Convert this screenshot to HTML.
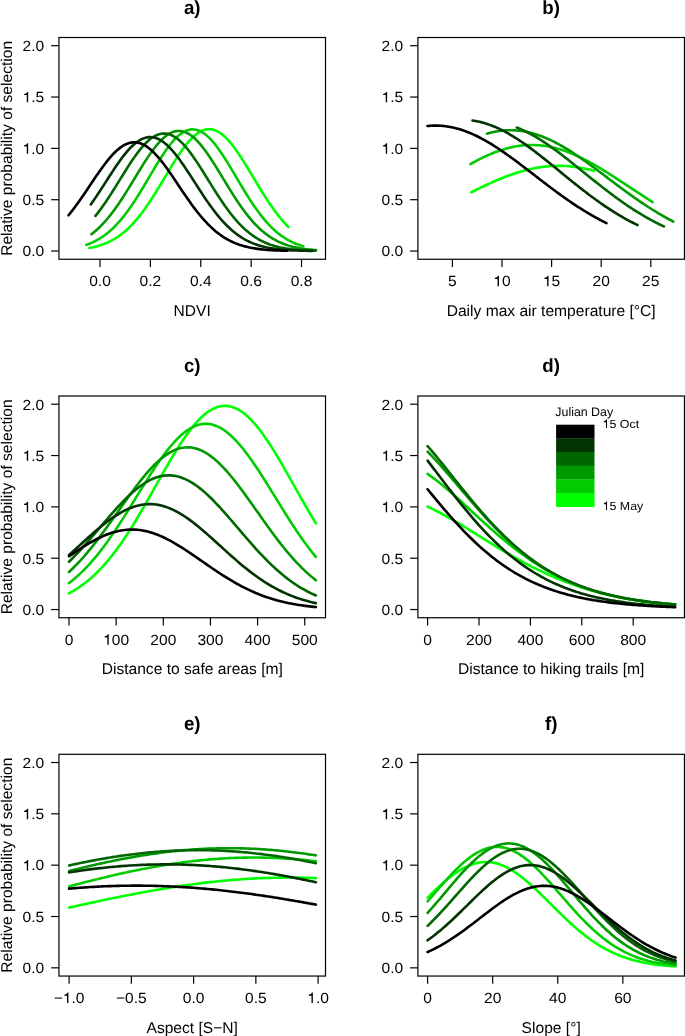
<!DOCTYPE html><html><head><meta charset="utf-8"><style>html,body{margin:0;padding:0;background:#fff;}svg{display:block;will-change:transform;}</style></head><body>
<svg xmlns="http://www.w3.org/2000/svg" width="685" height="1036" viewBox="0 0 685 1036" font-family="'Liberation Sans', sans-serif" text-rendering="geometricPrecision">
<rect width="685" height="1036" fill="#fff"/>
<g><polyline points="89.42,247.97 91.09,247.64 92.76,247.29 94.44,246.89 96.11,246.47 97.78,246 99.45,245.5 101.13,244.96 102.8,244.37 104.47,243.74 106.14,243.06 107.82,242.32 109.49,241.54 111.16,240.7 112.83,239.79 114.5,238.83 116.18,237.81 117.85,236.72 119.52,235.56 121.19,234.33 122.87,233.03 124.54,231.66 126.21,230.21 127.88,228.69 129.55,227.09 131.23,225.41 132.9,223.65 134.57,221.82 136.24,219.91 137.92,217.92 139.59,215.85 141.26,213.71 142.93,211.5 144.61,209.21 146.28,206.86 147.95,204.44 149.62,201.96 151.29,199.42 152.97,196.82 154.64,194.18 156.31,191.5 157.98,188.78 159.66,186.03 161.33,183.25 163,180.46 164.67,177.66 166.34,174.85 168.02,172.06 169.69,169.28 171.36,166.52 173.03,163.79 174.71,161.11 176.38,158.48 178.05,155.91 179.72,153.4 181.4,150.98 183.07,148.64 184.74,146.4 186.41,144.26 188.08,142.23 189.76,140.33 191.43,138.56 193.1,136.92 194.77,135.42 196.45,134.08 198.12,132.88 199.79,131.85 201.46,130.98 203.14,130.28 204.81,129.75 206.48,129.39 208.15,129.2 209.82,129.19 211.5,129.36 213.17,129.7 214.84,130.22 216.51,130.9 218.19,131.75 219.86,132.77 221.53,133.95 223.2,135.28 224.87,136.76 226.55,138.38 228.22,140.15 229.89,142.04 231.56,144.05 233.24,146.18 234.91,148.41 236.58,150.74 238.25,153.15 239.93,155.65 241.6,158.21 243.27,160.84 244.94,163.52 246.61,166.24 248.29,169 249.96,171.78 251.63,174.57 253.3,177.37 254.98,180.18 256.65,182.97 258.32,185.75 259.99,188.5 261.66,191.23 263.34,193.91 265.01,196.56 266.68,199.16 268.35,201.7 270.03,204.19 271.7,206.61 273.37,208.98 275.04,211.27 276.72,213.49 278.39,215.64 280.06,217.71 281.73,219.71 283.4,221.63 285.08,223.47 286.75,225.24 288.42,226.92" fill="none" stroke="#00FF00" stroke-width="2.6" stroke-linejoin="round" stroke-linecap="round"/><polyline points="86.4,244.83 88.22,244.17 90.04,243.45 91.87,242.67 93.69,241.83 95.51,240.92 97.33,239.94 99.16,238.89 100.98,237.76 102.8,236.55 104.62,235.26 106.45,233.88 108.27,232.41 110.09,230.86 111.91,229.22 113.74,227.48 115.56,225.64 117.38,223.72 119.2,221.69 121.03,219.58 122.85,217.37 124.67,215.06 126.49,212.67 128.32,210.19 130.14,207.62 131.96,204.98 133.78,202.26 135.61,199.46 137.43,196.61 139.25,193.69 141.07,190.73 142.9,187.72 144.72,184.68 146.54,181.61 148.36,178.53 150.19,175.44 152.01,172.36 153.83,169.3 155.66,166.27 157.48,163.28 159.3,160.34 161.12,157.47 162.95,154.68 164.77,151.97 166.59,149.37 168.41,146.88 170.24,144.52 172.06,142.29 173.88,140.21 175.7,138.29 177.53,136.54 179.35,134.96 181.17,133.57 182.99,132.36 184.82,131.36 186.64,130.55 188.46,129.96 190.28,129.57 192.11,129.39 193.93,129.43 195.75,129.68 197.57,130.14 199.4,130.81 201.22,131.69 203.04,132.76 204.86,134.03 206.69,135.49 208.51,137.13 210.33,138.94 212.15,140.92 213.98,143.05 215.8,145.33 217.62,147.74 219.45,150.27 221.27,152.91 223.09,155.64 224.91,158.47 226.74,161.36 228.56,164.32 230.38,167.33 232.2,170.37 234.03,173.44 235.85,176.52 237.67,179.61 239.49,182.68 241.32,185.74 243.14,188.77 244.96,191.77 246.78,194.72 248.61,197.61 250.43,200.45 252.25,203.22 254.07,205.91 255.9,208.53 257.72,211.07 259.54,213.52 261.36,215.88 263.19,218.15 265.01,220.33 266.83,222.41 268.65,224.4 270.48,226.3 272.3,228.1 274.12,229.8 275.94,231.41 277.77,232.94 279.59,234.37 281.41,235.72 283.24,236.98 285.06,238.16 286.88,239.26 288.7,240.29 290.53,241.24 292.35,242.13 294.17,242.95 295.99,243.71 297.82,244.4 299.64,245.05 301.46,245.63 303.28,246.17" fill="none" stroke="#00CC00" stroke-width="2.6" stroke-linejoin="round" stroke-linecap="round"/><polyline points="91.44,234.22 93.32,232.74 95.21,231.18 97.1,229.51 98.99,227.76 100.88,225.9 102.76,223.95 104.65,221.9 106.54,219.75 108.43,217.5 110.32,215.16 112.21,212.72 114.09,210.2 115.98,207.58 117.87,204.89 119.76,202.12 121.65,199.27 123.53,196.37 125.42,193.4 127.31,190.39 129.2,187.33 131.09,184.24 132.98,181.13 134.86,178.02 136.75,174.9 138.64,171.79 140.53,168.71 142.42,165.67 144.3,162.67 146.19,159.74 148.08,156.88 149.97,154.11 151.86,151.45 153.75,148.9 155.63,146.47 157.52,144.18 159.41,142.05 161.3,140.07 163.19,138.27 165.07,136.64 166.96,135.21 168.85,133.97 170.74,132.94 172.63,132.11 174.52,131.5 176.4,131.11 178.29,130.93 180.18,130.98 182.07,131.24 183.96,131.73 185.84,132.43 187.73,133.34 189.62,134.46 191.51,135.78 193.4,137.29 195.29,138.99 197.17,140.87 199.06,142.91 200.95,145.11 202.84,147.46 204.73,149.94 206.62,152.54 208.5,155.25 210.39,158.06 212.28,160.95 214.17,163.91 216.06,166.92 217.94,169.98 219.83,173.08 221.72,176.19 223.61,179.31 225.5,182.43 227.39,185.53 229.27,188.6 231.16,191.64 233.05,194.64 234.94,197.58 236.83,200.46 238.71,203.28 240.6,206.02 242.49,208.68 244.38,211.25 246.27,213.74 248.16,216.14 250.04,218.44 251.93,220.65 253.82,222.76 255.71,224.77 257.6,226.68 259.48,228.5 261.37,230.21 263.26,231.84 265.15,233.37 267.04,234.8 268.93,236.15 270.81,237.41 272.7,238.59 274.59,239.68 276.48,240.7 278.37,241.64 280.25,242.52 282.14,243.32 284.03,244.07 285.92,244.75 287.81,245.38 289.7,245.95 291.58,246.47 293.47,246.95 295.36,247.38 297.25,247.78 299.14,248.14 301.02,248.46 302.91,248.75 304.8,249.01 306.69,249.25 308.58,249.46 310.47,249.64 312.35,249.81 314.24,249.96 316.13,250.1" fill="none" stroke="#009900" stroke-width="2.6" stroke-linejoin="round" stroke-linecap="round"/><polyline points="95.47,215.91 97.31,213.58 99.16,211.16 101.01,208.66 102.86,206.09 104.71,203.44 106.55,200.72 108.4,197.95 110.25,195.11 112.1,192.23 113.95,189.31 115.79,186.36 117.64,183.39 119.49,180.4 121.34,177.42 123.19,174.44 125.03,171.48 126.88,168.55 128.73,165.66 130.58,162.83 132.43,160.06 134.27,157.37 136.12,154.77 137.97,152.27 139.82,149.89 141.67,147.63 143.51,145.5 145.36,143.52 147.21,141.7 149.06,140.04 150.9,138.55 152.75,137.24 154.6,136.12 156.45,135.19 158.3,134.46 160.14,133.93 161.99,133.61 163.84,133.49 165.69,133.58 167.54,133.87 169.38,134.37 171.23,135.07 173.08,135.97 174.93,137.06 176.78,138.34 178.62,139.8 180.47,141.43 182.32,143.23 184.17,145.19 186.02,147.29 187.86,149.53 189.71,151.9 191.56,154.38 193.41,156.97 195.26,159.64 197.1,162.4 198.95,165.22 200.8,168.1 202.65,171.02 204.5,173.98 206.34,176.96 208.19,179.95 210.04,182.93 211.89,185.91 213.74,188.86 215.58,191.79 217.43,194.68 219.28,197.52 221.13,200.3 222.98,203.03 224.82,205.69 226.67,208.27 228.52,210.78 230.37,213.21 232.22,215.56 234.06,217.82 235.91,219.99 237.76,222.06 239.61,224.05 241.46,225.95 243.3,227.75 245.15,229.46 247,231.08 248.85,232.61 250.7,234.05 252.54,235.41 254.39,236.69 256.24,237.88 258.09,239 259.94,240.04 261.78,241 263.63,241.9 265.48,242.74 267.33,243.51 269.18,244.22 271.02,244.87 272.87,245.47 274.72,246.03 276.57,246.53 278.42,246.99 280.26,247.41 282.11,247.79 283.96,248.14 285.81,248.46 287.65,248.74 289.5,249 291.35,249.23 293.2,249.44 295.05,249.62 296.89,249.79 298.74,249.94 300.59,250.07 302.44,250.19 304.29,250.29 306.13,250.39 307.98,250.47 309.83,250.54 311.68,250.61 313.53,250.66 315.37,250.71" fill="none" stroke="#006600" stroke-width="2.6" stroke-linejoin="round" stroke-linecap="round"/><polyline points="90.81,204.48 92.67,201.84 94.52,199.14 96.38,196.38 98.24,193.58 100.1,190.74 101.96,187.88 103.82,184.99 105.68,182.09 107.54,179.2 109.4,176.31 111.26,173.44 113.12,170.6 114.98,167.81 116.84,165.07 118.7,162.4 120.56,159.81 122.42,157.3 124.28,154.9 126.14,152.6 128,150.43 129.86,148.39 131.72,146.5 133.58,144.75 135.44,143.17 137.3,141.76 139.16,140.52 141.02,139.46 142.87,138.6 144.73,137.92 146.59,137.44 148.45,137.16 150.31,137.08 152.17,137.2 154.03,137.52 155.89,138.04 157.75,138.75 159.61,139.66 161.47,140.75 163.33,142.02 165.19,143.47 167.05,145.09 168.91,146.86 170.77,148.79 172.63,150.85 174.49,153.05 176.35,155.37 178.21,157.79 180.07,160.32 181.93,162.93 183.79,165.61 185.65,168.36 187.51,171.17 189.37,174.01 191.22,176.88 193.08,179.77 194.94,182.67 196.8,185.57 198.66,188.45 200.52,191.31 202.38,194.14 204.24,196.93 206.1,199.68 207.96,202.37 209.82,205 211.68,207.57 213.54,210.06 215.4,212.48 217.26,214.82 219.12,217.08 220.98,219.26 222.84,221.34 224.7,223.34 226.56,225.25 228.42,227.07 230.28,228.8 232.14,230.44 234,232 235.86,233.47 237.72,234.85 239.57,236.15 241.43,237.37 243.29,238.51 245.15,239.58 247.01,240.57 248.87,241.5 250.73,242.36 252.59,243.15 254.45,243.89 256.31,244.56 258.17,245.19 260.03,245.76 261.89,246.29 263.75,246.77 265.61,247.21 267.47,247.6 269.33,247.97 271.19,248.3 273.05,248.6 274.91,248.87 276.77,249.11 278.63,249.33 280.49,249.53 282.35,249.7 284.21,249.86 286.07,250 287.92,250.13 289.78,250.24 291.64,250.34 293.5,250.43 295.36,250.5 297.22,250.57 299.08,250.63 300.94,250.69 302.8,250.73 304.66,250.77 306.52,250.81 308.38,250.84 310.24,250.87 312.1,250.89" fill="none" stroke="#003300" stroke-width="2.6" stroke-linejoin="round" stroke-linecap="round"/><polyline points="68.51,215.29 70.35,213.03 72.19,210.69 74.02,208.29 75.86,205.83 77.7,203.3 79.54,200.72 81.37,198.1 83.21,195.43 85.05,192.73 86.89,190.01 88.72,187.27 90.56,184.52 92.4,181.77 94.24,179.04 96.07,176.33 97.91,173.65 99.75,171.01 101.59,168.43 103.42,165.91 105.26,163.47 107.1,161.11 108.94,158.85 110.77,156.7 112.61,154.67 114.45,152.76 116.28,150.99 118.12,149.36 119.96,147.89 121.8,146.58 123.63,145.43 125.47,144.46 127.31,143.66 129.15,143.05 130.98,142.62 132.82,142.38 134.66,142.32 136.5,142.46 138.33,142.78 140.17,143.29 142.01,143.99 143.85,144.86 145.68,145.91 147.52,147.13 149.36,148.51 151.19,150.05 153.03,151.74 154.87,153.58 156.71,155.54 158.54,157.63 160.38,159.83 162.22,162.13 164.06,164.52 165.89,167 167.73,169.55 169.57,172.15 171.41,174.81 173.24,177.51 175.08,180.23 176.92,182.97 178.76,185.72 180.59,188.46 182.43,191.2 184.27,193.91 186.11,196.6 187.94,199.25 189.78,201.85 191.62,204.41 193.45,206.91 195.29,209.35 197.13,211.72 198.97,214.02 200.8,216.25 202.64,218.4 204.48,220.47 206.32,222.46 208.15,224.36 209.99,226.18 211.83,227.92 213.67,229.57 215.5,231.14 217.34,232.63 219.18,234.04 221.02,235.36 222.85,236.61 224.69,237.78 226.53,238.88 228.37,239.9 230.2,240.86 232.04,241.75 233.88,242.58 235.71,243.34 237.55,244.05 239.39,244.71 241.23,245.31 243.06,245.87 244.9,246.38 246.74,246.84 248.58,247.27 250.41,247.66 252.25,248.01 254.09,248.33 255.93,248.63 257.76,248.89 259.6,249.13 261.44,249.34 263.28,249.54 265.11,249.71 266.95,249.87 268.79,250 270.63,250.13 272.46,250.24 274.3,250.34 276.14,250.42 277.97,250.5 279.81,250.57 281.65,250.63 283.49,250.68 285.32,250.73 287.16,250.77" fill="none" stroke="#000000" stroke-width="2.6" stroke-linejoin="round" stroke-linecap="round"/><rect x="58.95" y="37.5" width="266.55" height="221.75" fill="none" stroke="#000" stroke-width="1.2"/><line x1="51.15" y1="251.04" x2="58.95" y2="251.04" stroke="#000" stroke-width="1.2"/><g transform="translate(22.56,256.34) scale(1,0.95)"><text x="0" y="0" font-size="15.6">0.0</text></g><line x1="51.15" y1="199.71" x2="58.95" y2="199.71" stroke="#000" stroke-width="1.2"/><g transform="translate(22.56,205.01) scale(1,0.95)"><text x="0" y="0" font-size="15.6">0.5</text></g><line x1="51.15" y1="148.38" x2="58.95" y2="148.38" stroke="#000" stroke-width="1.2"/><g transform="translate(22.56,153.68) scale(1,0.95)"><text x="0" y="0" font-size="15.6"> .0</text><path d="M555 0H735V1440H600C570 1300 460 1170 207 1150V1000H555Z" transform="translate(0.00,0) scale(0.007617,-0.007617)"/></g><line x1="51.15" y1="97.04" x2="58.95" y2="97.04" stroke="#000" stroke-width="1.2"/><g transform="translate(22.56,102.34) scale(1,0.95)"><text x="0" y="0" font-size="15.6"> .5</text><path d="M555 0H735V1440H600C570 1300 460 1170 207 1150V1000H555Z" transform="translate(0.00,0) scale(0.007617,-0.007617)"/></g><line x1="51.15" y1="45.71" x2="58.95" y2="45.71" stroke="#000" stroke-width="1.2"/><g transform="translate(22.56,51.01) scale(1,0.95)"><text x="0" y="0" font-size="15.6">2.0</text></g><line x1="100" y1="259.25" x2="100" y2="267.05" stroke="#000" stroke-width="1.2"/><g transform="translate(89.16,286.15) scale(1,0.95)"><text x="0" y="0" font-size="15.6">0.0</text></g><line x1="150.38" y1="259.25" x2="150.38" y2="267.05" stroke="#000" stroke-width="1.2"/><g transform="translate(139.54,286.15) scale(1,0.95)"><text x="0" y="0" font-size="15.6">0.2</text></g><line x1="200.76" y1="259.25" x2="200.76" y2="267.05" stroke="#000" stroke-width="1.2"/><g transform="translate(189.92,286.15) scale(1,0.95)"><text x="0" y="0" font-size="15.6">0.4</text></g><line x1="251.14" y1="259.25" x2="251.14" y2="267.05" stroke="#000" stroke-width="1.2"/><g transform="translate(240.30,286.15) scale(1,0.95)"><text x="0" y="0" font-size="15.6">0.6</text></g><line x1="301.52" y1="259.25" x2="301.52" y2="267.05" stroke="#000" stroke-width="1.2"/><g transform="translate(290.68,286.15) scale(1,0.95)"><text x="0" y="0" font-size="15.6">0.8</text></g><text transform="translate(192.22,315.75) scale(1,1.0)" font-size="15.6" text-anchor="middle">NDVI</text><text transform="translate(192.22,13.60) scale(1,1.02)" font-size="18.7" font-weight="bold" text-anchor="middle">a)</text><text transform="translate(11.6,148.38) rotate(-90) scale(1,1.0)" font-size="15.6" text-anchor="middle">Relative probability of selection</text></g>
<g><polyline points="471.35,192.26 472.38,191.74 473.41,191.23 474.44,190.72 475.47,190.21 476.5,189.7 477.53,189.2 478.56,188.69 479.59,188.19 480.62,187.69 481.65,187.2 482.68,186.71 483.71,186.22 484.74,185.73 485.77,185.25 486.8,184.77 487.83,184.29 488.86,183.82 489.89,183.35 490.92,182.88 491.95,182.42 492.98,181.96 494.01,181.51 495.05,181.06 496.08,180.61 497.11,180.17 498.14,179.74 499.17,179.31 500.2,178.88 501.23,178.46 502.26,178.04 503.29,177.63 504.32,177.23 505.35,176.83 506.38,176.43 507.41,176.04 508.44,175.66 509.47,175.28 510.5,174.91 511.53,174.55 512.56,174.19 513.59,173.83 514.62,173.49 515.65,173.15 516.68,172.82 517.71,172.49 518.74,172.17 519.77,171.86 520.8,171.55 521.83,171.25 522.86,170.96 523.89,170.68 524.93,170.4 525.96,170.13 526.99,169.87 528.02,169.62 529.05,169.37 530.08,169.13 531.11,168.9 532.14,168.68 533.17,168.47 534.2,168.26 535.23,168.06 536.26,167.87 537.29,167.69 538.32,167.51 539.35,167.35 540.38,167.19 541.41,167.04 542.44,166.9 543.47,166.77 544.5,166.64 545.53,166.53 546.56,166.42 547.59,166.33 548.62,166.24 549.65,166.16 550.68,166.08 551.71,166.02 552.74,165.97 553.77,165.92 554.81,165.89 555.84,165.86 556.87,165.84 557.9,165.83 558.93,165.83 559.96,165.84 560.99,165.85 562.02,165.88 563.05,165.91 564.08,165.95 565.11,166.01 566.14,166.07 567.17,166.14 568.2,166.21 569.23,166.3 570.26,166.4 571.29,166.5 572.32,166.61 573.35,166.74 574.38,166.86 575.41,167 576.44,167.15 577.47,167.31 578.5,167.47 579.53,167.64 580.56,167.82 581.59,168.01 582.62,168.21 583.65,168.41 584.69,168.62 585.72,168.85 586.75,169.07 587.78,169.31 588.81,169.55 589.84,169.81 590.87,170.07 591.9,170.33 592.93,170.61 593.96,170.89" fill="none" stroke="#00FF00" stroke-width="2.6" stroke-linejoin="round" stroke-linecap="round"/><polyline points="470.45,164.11 471.98,163.25 473.52,162.41 475.05,161.58 476.58,160.77 478.11,159.97 479.64,159.18 481.17,158.42 482.7,157.67 484.23,156.93 485.76,156.22 487.29,155.52 488.82,154.84 490.35,154.18 491.88,153.54 493.41,152.93 494.94,152.33 496.47,151.75 498,151.19 499.53,150.66 501.06,150.14 502.6,149.65 504.13,149.19 505.66,148.74 507.19,148.32 508.72,147.92 510.25,147.55 511.78,147.2 513.31,146.88 514.84,146.58 516.37,146.31 517.9,146.06 519.43,145.84 520.96,145.64 522.49,145.47 524.02,145.32 525.55,145.2 527.08,145.11 528.61,145.04 530.14,145 531.67,144.99 533.21,145 534.74,145.04 536.27,145.1 537.8,145.19 539.33,145.31 540.86,145.45 542.39,145.62 543.92,145.81 545.45,146.03 546.98,146.28 548.51,146.55 550.04,146.85 551.57,147.17 553.1,147.51 554.63,147.88 556.16,148.28 557.69,148.69 559.22,149.14 560.75,149.6 562.29,150.09 563.82,150.6 565.35,151.13 566.88,151.69 568.41,152.26 569.94,152.86 571.47,153.47 573,154.11 574.53,154.77 576.06,155.45 577.59,156.14 579.12,156.85 580.65,157.59 582.18,158.33 583.71,159.1 585.24,159.88 586.77,160.68 588.3,161.49 589.83,162.32 591.37,163.16 592.9,164.01 594.43,164.88 595.96,165.76 597.49,166.65 599.02,167.56 600.55,168.47 602.08,169.4 603.61,170.33 605.14,171.28 606.67,172.23 608.2,173.19 609.73,174.15 611.26,175.13 612.79,176.11 614.32,177.1 615.85,178.09 617.38,179.08 618.91,180.08 620.44,181.08 621.98,182.09 623.51,183.1 625.04,184.11 626.57,185.12 628.1,186.13 629.63,187.15 631.16,188.16 632.69,189.17 634.22,190.18 635.75,191.19 637.28,192.2 638.81,193.2 640.34,194.2 641.87,195.2 643.4,196.19 644.93,197.18 646.46,198.17 647.99,199.15 649.52,200.12 651.06,201.09 652.59,202.05" fill="none" stroke="#00CC00" stroke-width="2.6" stroke-linejoin="round" stroke-linecap="round"/><polyline points="487.02,133.71 488.59,133.26 490.15,132.85 491.72,132.46 493.28,132.1 494.85,131.78 496.41,131.48 497.98,131.21 499.55,130.98 501.11,130.77 502.68,130.6 504.24,130.46 505.81,130.35 507.37,130.27 508.94,130.22 510.5,130.2 512.07,130.22 513.63,130.27 515.2,130.34 516.77,130.45 518.33,130.59 519.9,130.77 521.46,130.97 523.03,131.2 524.59,131.47 526.16,131.76 527.72,132.09 529.29,132.45 530.86,132.83 532.42,133.25 533.99,133.69 535.55,134.16 537.12,134.67 538.68,135.2 540.25,135.75 541.81,136.34 543.38,136.95 544.95,137.59 546.51,138.25 548.08,138.94 549.64,139.65 551.21,140.39 552.77,141.15 554.34,141.94 555.9,142.75 557.47,143.58 559.03,144.43 560.6,145.3 562.17,146.19 563.73,147.1 565.3,148.03 566.86,148.98 568.43,149.95 569.99,150.93 571.56,151.93 573.12,152.95 574.69,153.98 576.26,155.03 577.82,156.08 579.39,157.15 580.95,158.24 582.52,159.33 584.08,160.44 585.65,161.55 587.21,162.68 588.78,163.81 590.35,164.95 591.91,166.1 593.48,167.26 595.04,168.42 596.61,169.58 598.17,170.76 599.74,171.93 601.3,173.11 602.87,174.29 604.44,175.47 606,176.65 607.57,177.84 609.13,179.02 610.7,180.2 612.26,181.38 613.83,182.56 615.39,183.74 616.96,184.92 618.52,186.09 620.09,187.25 621.66,188.42 623.22,189.57 624.79,190.73 626.35,191.87 627.92,193.01 629.48,194.14 631.05,195.27 632.61,196.38 634.18,197.49 635.75,198.59 637.31,199.68 638.88,200.76 640.44,201.83 642.01,202.89 643.57,203.94 645.14,204.98 646.7,206.01 648.27,207.02 649.84,208.03 651.4,209.02 652.97,210 654.53,210.97 656.1,211.92 657.66,212.87 659.23,213.79 660.79,214.71 662.36,215.61 663.93,216.5 665.49,217.38 667.06,218.24 668.62,219.09 670.19,219.93 671.75,220.75 673.32,221.55" fill="none" stroke="#009900" stroke-width="2.6" stroke-linejoin="round" stroke-linecap="round"/><polyline points="516.78,127.52 518.02,128.02 519.25,128.53 520.49,129.06 521.73,129.61 522.97,130.18 524.2,130.76 525.44,131.36 526.68,131.97 527.91,132.6 529.15,133.25 530.39,133.91 531.63,134.59 532.86,135.28 534.1,135.98 535.34,136.7 536.57,137.44 537.81,138.19 539.05,138.95 540.29,139.72 541.52,140.51 542.76,141.31 544,142.12 545.23,142.94 546.47,143.77 547.71,144.62 548.94,145.47 550.18,146.34 551.42,147.21 552.66,148.1 553.89,148.99 555.13,149.89 556.37,150.8 557.6,151.72 558.84,152.64 560.08,153.58 561.32,154.51 562.55,155.46 563.79,156.41 565.03,157.37 566.26,158.33 567.5,159.3 568.74,160.27 569.98,161.25 571.21,162.23 572.45,163.21 573.69,164.2 574.92,165.19 576.16,166.18 577.4,167.18 578.63,168.17 579.87,169.17 581.11,170.17 582.35,171.17 583.58,172.17 584.82,173.17 586.06,174.17 587.29,175.17 588.53,176.16 589.77,177.16 591.01,178.16 592.24,179.15 593.48,180.14 594.72,181.13 595.95,182.12 597.19,183.1 598.43,184.08 599.67,185.06 600.9,186.03 602.14,187 603.38,187.97 604.61,188.93 605.85,189.89 607.09,190.84 608.32,191.78 609.56,192.72 610.8,193.66 612.04,194.59 613.27,195.51 614.51,196.43 615.75,197.34 616.98,198.24 618.22,199.14 619.46,200.03 620.7,200.91 621.93,201.78 623.17,202.65 624.41,203.51 625.64,204.37 626.88,205.21 628.12,206.05 629.36,206.88 630.59,207.7 631.83,208.51 633.07,209.31 634.3,210.11 635.54,210.89 636.78,211.67 638.01,212.44 639.25,213.2 640.49,213.95 641.73,214.69 642.96,215.42 644.2,216.15 645.44,216.86 646.67,217.57 647.91,218.26 649.15,218.95 650.39,219.63 651.62,220.3 652.86,220.96 654.1,221.61 655.33,222.25 656.57,222.88 657.81,223.5 659.05,224.11 660.28,224.71 661.52,225.31 662.76,225.89 663.99,226.46" fill="none" stroke="#006600" stroke-width="2.6" stroke-linejoin="round" stroke-linecap="round"/><polyline points="472.54,120.52 473.92,120.72 475.31,120.95 476.7,121.2 478.08,121.48 479.47,121.79 480.86,122.12 482.24,122.48 483.63,122.86 485.01,123.27 486.4,123.7 487.79,124.16 489.17,124.64 490.56,125.14 491.95,125.67 493.33,126.22 494.72,126.8 496.1,127.39 497.49,128.01 498.88,128.65 500.26,129.31 501.65,130 503.04,130.7 504.42,131.42 505.81,132.17 507.2,132.93 508.58,133.71 509.97,134.51 511.35,135.33 512.74,136.16 514.13,137.02 515.51,137.89 516.9,138.77 518.29,139.67 519.67,140.59 521.06,141.52 522.44,142.47 523.83,143.43 525.22,144.4 526.6,145.39 527.99,146.38 529.38,147.39 530.76,148.41 532.15,149.44 533.53,150.49 534.92,151.54 536.31,152.6 537.69,153.66 539.08,154.74 540.47,155.82 541.85,156.91 543.24,158.01 544.63,159.11 546.01,160.22 547.4,161.34 548.78,162.45 550.17,163.58 551.56,164.7 552.94,165.83 554.33,166.96 555.72,168.09 557.1,169.22 558.49,170.36 559.87,171.49 561.26,172.63 562.65,173.76 564.03,174.89 565.42,176.03 566.81,177.16 568.19,178.28 569.58,179.41 570.96,180.53 572.35,181.65 573.74,182.77 575.12,183.88 576.51,184.98 577.9,186.08 579.28,187.18 580.67,188.27 582.06,189.35 583.44,190.43 584.83,191.5 586.21,192.56 587.6,193.62 588.99,194.67 590.37,195.71 591.76,196.74 593.15,197.77 594.53,198.78 595.92,199.79 597.3,200.79 598.69,201.77 600.08,202.75 601.46,203.72 602.85,204.68 604.24,205.63 605.62,206.57 607.01,207.49 608.39,208.41 609.78,209.32 611.17,210.21 612.55,211.1 613.94,211.97 615.33,212.83 616.71,213.68 618.1,214.52 619.49,215.35 620.87,216.16 622.26,216.97 623.64,217.76 625.03,218.54 626.42,219.31 627.8,220.06 629.19,220.81 630.58,221.54 631.96,222.26 633.35,222.97 634.73,223.67 636.12,224.35 637.51,225.02" fill="none" stroke="#003300" stroke-width="2.6" stroke-linejoin="round" stroke-linecap="round"/><polyline points="427.5,126 429,125.86 430.51,125.75 432.01,125.66 433.52,125.61 435.02,125.59 436.52,125.59 438.03,125.62 439.53,125.69 441.04,125.78 442.54,125.9 444.04,126.05 445.55,126.23 447.05,126.44 448.55,126.67 450.06,126.94 451.56,127.23 453.07,127.55 454.57,127.9 456.07,128.28 457.58,128.68 459.08,129.11 460.59,129.57 462.09,130.05 463.59,130.56 465.1,131.1 466.6,131.66 468.1,132.24 469.61,132.85 471.11,133.49 472.62,134.15 474.12,134.83 475.62,135.53 477.13,136.26 478.63,137.01 480.14,137.78 481.64,138.57 483.14,139.39 484.65,140.22 486.15,141.07 487.65,141.94 489.16,142.83 490.66,143.73 492.17,144.66 493.67,145.6 495.17,146.55 496.68,147.52 498.18,148.51 499.69,149.51 501.19,150.53 502.69,151.55 504.2,152.59 505.7,153.64 507.2,154.71 508.71,155.78 510.21,156.86 511.72,157.95 513.22,159.05 514.72,160.16 516.23,161.28 517.73,162.4 519.23,163.53 520.74,164.67 522.24,165.81 523.75,166.96 525.25,168.1 526.75,169.26 528.26,170.41 529.76,171.57 531.27,172.73 532.77,173.89 534.27,175.05 535.78,176.21 537.28,177.37 538.78,178.53 540.29,179.68 541.79,180.84 543.3,181.99 544.8,183.14 546.3,184.29 547.81,185.43 549.31,186.56 550.82,187.7 552.32,188.82 553.82,189.94 555.33,191.06 556.83,192.17 558.33,193.27 559.84,194.36 561.34,195.45 562.85,196.52 564.35,197.59 565.85,198.65 567.36,199.7 568.86,200.75 570.37,201.78 571.87,202.8 573.37,203.81 574.88,204.81 576.38,205.81 577.88,206.79 579.39,207.75 580.89,208.71 582.4,209.66 583.9,210.59 585.4,211.51 586.91,212.42 588.41,213.32 589.92,214.21 591.42,215.08 592.92,215.94 594.43,216.79 595.93,217.62 597.43,218.45 598.94,219.26 600.44,220.05 601.95,220.84 603.45,221.61 604.95,222.37 606.46,223.11" fill="none" stroke="#000000" stroke-width="2.6" stroke-linejoin="round" stroke-linecap="round"/><rect x="417.9" y="37.5" width="266.55" height="221.75" fill="none" stroke="#000" stroke-width="1.2"/><line x1="410.1" y1="251.04" x2="417.9" y2="251.04" stroke="#000" stroke-width="1.2"/><g transform="translate(381.51,256.34) scale(1,0.95)"><text x="0" y="0" font-size="15.6">0.0</text></g><line x1="410.1" y1="199.71" x2="417.9" y2="199.71" stroke="#000" stroke-width="1.2"/><g transform="translate(381.51,205.01) scale(1,0.95)"><text x="0" y="0" font-size="15.6">0.5</text></g><line x1="410.1" y1="148.38" x2="417.9" y2="148.38" stroke="#000" stroke-width="1.2"/><g transform="translate(381.51,153.68) scale(1,0.95)"><text x="0" y="0" font-size="15.6"> .0</text><path d="M555 0H735V1440H600C570 1300 460 1170 207 1150V1000H555Z" transform="translate(0.00,0) scale(0.007617,-0.007617)"/></g><line x1="410.1" y1="97.04" x2="417.9" y2="97.04" stroke="#000" stroke-width="1.2"/><g transform="translate(381.51,102.34) scale(1,0.95)"><text x="0" y="0" font-size="15.6"> .5</text><path d="M555 0H735V1440H600C570 1300 460 1170 207 1150V1000H555Z" transform="translate(0.00,0) scale(0.007617,-0.007617)"/></g><line x1="410.1" y1="45.71" x2="417.9" y2="45.71" stroke="#000" stroke-width="1.2"/><g transform="translate(381.51,51.01) scale(1,0.95)"><text x="0" y="0" font-size="15.6">2.0</text></g><line x1="452.4" y1="259.25" x2="452.4" y2="267.05" stroke="#000" stroke-width="1.2"/><g transform="translate(448.06,286.15) scale(1,0.95)"><text x="0" y="0" font-size="15.6">5</text></g><line x1="502" y1="259.25" x2="502" y2="267.05" stroke="#000" stroke-width="1.2"/><g transform="translate(493.32,286.15) scale(1,0.95)"><text x="0" y="0" font-size="15.6"> 0</text><path d="M555 0H735V1440H600C570 1300 460 1170 207 1150V1000H555Z" transform="translate(0.00,0) scale(0.007617,-0.007617)"/></g><line x1="551.6" y1="259.25" x2="551.6" y2="267.05" stroke="#000" stroke-width="1.2"/><g transform="translate(542.92,286.15) scale(1,0.95)"><text x="0" y="0" font-size="15.6"> 5</text><path d="M555 0H735V1440H600C570 1300 460 1170 207 1150V1000H555Z" transform="translate(0.00,0) scale(0.007617,-0.007617)"/></g><line x1="601.2" y1="259.25" x2="601.2" y2="267.05" stroke="#000" stroke-width="1.2"/><g transform="translate(592.52,286.15) scale(1,0.95)"><text x="0" y="0" font-size="15.6">20</text></g><line x1="650.8" y1="259.25" x2="650.8" y2="267.05" stroke="#000" stroke-width="1.2"/><g transform="translate(642.12,286.15) scale(1,0.95)"><text x="0" y="0" font-size="15.6">25</text></g><text transform="translate(551.17,315.75) scale(1,1.0)" font-size="15.6" text-anchor="middle">Daily max air temperature [°C]</text><text transform="translate(551.17,13.60) scale(1,1.02)" font-size="18.7" font-weight="bold" text-anchor="middle">b)</text></g>
<g><polyline points="69,593.34 71.07,592.22 73.15,591.04 75.22,589.8 77.3,588.49 79.37,587.11 81.45,585.67 83.52,584.16 85.59,582.57 87.67,580.91 89.74,579.17 91.82,577.36 93.89,575.47 95.96,573.51 98.04,571.46 100.11,569.33 102.19,567.13 104.26,564.84 106.34,562.47 108.41,560.01 110.48,557.48 112.56,554.87 114.63,552.17 116.71,549.4 118.78,546.55 120.86,543.63 122.93,540.63 125,537.56 127.08,534.42 129.15,531.21 131.23,527.93 133.3,524.6 135.37,521.21 137.45,517.77 139.52,514.28 141.6,510.74 143.67,507.17 145.75,503.56 147.82,499.92 149.89,496.26 151.97,492.58 154.04,488.88 156.12,485.19 158.19,481.49 160.26,477.81 162.34,474.13 164.41,470.48 166.49,466.86 168.56,463.28 170.64,459.74 172.71,456.26 174.78,452.83 176.86,449.47 178.93,446.18 181.01,442.97 183.08,439.86 185.16,436.84 187.23,433.92 189.3,431.12 191.38,428.43 193.45,425.86 195.53,423.43 197.6,421.13 199.67,418.98 201.75,416.97 203.82,415.12 205.9,413.42 207.97,411.89 210.05,410.52 212.12,409.33 214.19,408.3 216.27,407.46 218.34,406.79 220.42,406.29 222.49,405.99 224.57,405.86 226.64,405.91 228.71,406.15 230.79,406.57 232.86,407.17 234.94,407.95 237.01,408.9 239.08,410.03 241.16,411.33 243.23,412.8 245.31,414.44 247.38,416.23 249.46,418.18 251.53,420.27 253.6,422.51 255.68,424.89 257.75,427.41 259.83,430.05 261.9,432.81 263.98,435.68 266.05,438.66 268.12,441.74 270.2,444.91 272.27,448.17 274.35,451.5 276.42,454.9 278.49,458.37 280.57,461.89 282.64,465.45 284.72,469.06 286.79,472.7 288.87,476.36 290.94,480.04 293.01,483.74 295.09,487.43 297.16,491.13 299.24,494.81 301.31,498.48 303.39,502.13 305.46,505.75 307.53,509.34 309.61,512.9 311.68,516.41 313.76,519.87 315.83,523.28" fill="none" stroke="#00FF00" stroke-width="2.6" stroke-linejoin="round" stroke-linecap="round"/><polyline points="69,583.04 71.07,581.44 73.15,579.77 75.22,578.03 77.3,576.22 79.37,574.34 81.45,572.38 83.52,570.35 85.59,568.24 87.67,566.06 89.74,563.81 91.82,561.48 93.89,559.08 95.96,556.6 98.04,554.06 100.11,551.44 102.19,548.76 104.26,546.01 106.34,543.19 108.41,540.31 110.48,537.37 112.56,534.37 114.63,531.32 116.71,528.22 118.78,525.07 120.86,521.87 122.93,518.64 125,515.37 127.08,512.07 129.15,508.75 131.23,505.4 133.3,502.05 135.37,498.68 137.45,495.31 139.52,491.94 141.6,488.58 143.67,485.24 145.75,481.92 147.82,478.62 149.89,475.37 151.97,472.15 154.04,468.98 156.12,465.87 158.19,462.82 160.26,459.85 162.34,456.94 164.41,454.12 166.49,451.39 168.56,448.76 170.64,446.23 172.71,443.8 174.78,441.5 176.86,439.31 178.93,437.25 181.01,435.31 183.08,433.52 185.16,431.87 187.23,430.36 189.3,429 191.38,427.79 193.45,426.74 195.53,425.84 197.6,425.11 199.67,424.54 201.75,424.14 203.82,423.9 205.9,423.82 207.97,423.91 210.05,424.17 212.12,424.6 214.19,425.18 216.27,425.93 218.34,426.85 220.42,427.92 222.49,429.14 224.57,430.52 226.64,432.04 228.71,433.71 230.79,435.52 232.86,437.47 234.94,439.55 237.01,441.75 239.08,444.07 241.16,446.5 243.23,449.05 245.31,451.69 247.38,454.43 249.46,457.26 251.53,460.17 253.6,463.16 255.68,466.22 257.75,469.33 259.83,472.51 261.9,475.73 263.98,478.99 266.05,482.28 268.12,485.61 270.2,488.95 272.27,492.31 274.35,495.68 276.42,499.05 278.49,502.42 280.57,505.78 282.64,509.12 284.72,512.44 286.79,515.74 288.87,519 290.94,522.23 293.01,525.42 295.09,528.56 297.16,531.66 299.24,534.71 301.31,537.7 303.39,540.63 305.46,543.51 307.53,546.32 309.61,549.06 311.68,551.74 313.76,554.35 315.83,556.88" fill="none" stroke="#00CC00" stroke-width="2.6" stroke-linejoin="round" stroke-linecap="round"/><polyline points="69,572 71.07,570.05 73.15,568.03 75.22,565.94 77.3,563.8 79.37,561.59 81.45,559.32 83.52,556.99 85.59,554.6 87.67,552.15 89.74,549.65 91.82,547.09 93.89,544.48 95.96,541.83 98.04,539.13 100.11,536.38 102.19,533.6 104.26,530.79 106.34,527.94 108.41,525.06 110.48,522.16 112.56,519.25 114.63,516.32 116.71,513.38 118.78,510.43 120.86,507.49 122.93,504.55 125,501.63 127.08,498.72 129.15,495.84 131.23,492.99 133.3,490.17 135.37,487.4 137.45,484.67 139.52,481.99 141.6,479.38 143.67,476.83 145.75,474.35 147.82,471.94 149.89,469.62 151.97,467.39 154.04,465.25 156.12,463.21 158.19,461.28 160.26,459.45 162.34,457.74 164.41,456.15 166.49,454.67 168.56,453.33 170.64,452.11 172.71,451.02 174.78,450.07 176.86,449.26 178.93,448.59 181.01,448.06 183.08,447.67 185.16,447.43 187.23,447.33 189.3,447.38 191.38,447.57 193.45,447.91 195.53,448.39 197.6,449.02 199.67,449.78 201.75,450.68 203.82,451.72 205.9,452.9 207.97,454.2 210.05,455.63 212.12,457.18 214.19,458.86 216.27,460.65 218.34,462.54 220.42,464.55 222.49,466.65 224.57,468.85 226.64,471.14 228.71,473.52 230.79,475.97 232.86,478.5 234.94,481.1 237.01,483.75 239.08,486.46 241.16,489.22 243.23,492.03 245.31,494.87 247.38,497.74 249.46,500.64 251.53,503.56 253.6,506.49 255.68,509.43 257.75,512.37 259.83,515.32 261.9,518.25 263.98,521.17 266.05,524.08 268.12,526.96 270.2,529.82 272.27,532.65 274.35,535.44 276.42,538.2 278.49,540.91 280.57,543.58 282.64,546.21 284.72,548.78 286.79,551.3 288.87,553.77 290.94,556.18 293.01,558.53 295.09,560.82 297.16,563.05 299.24,565.22 301.31,567.33 303.39,569.37 305.46,571.34 307.53,573.26 309.61,575.1 311.68,576.88 313.76,578.6 315.83,580.25" fill="none" stroke="#009900" stroke-width="2.6" stroke-linejoin="round" stroke-linecap="round"/><polyline points="69,561.83 71.07,559.75 73.15,557.63 75.22,555.47 77.3,553.27 79.37,551.03 81.45,548.76 83.52,546.46 85.59,544.12 87.67,541.76 89.74,539.38 91.82,536.98 93.89,534.57 95.96,532.14 98.04,529.71 100.11,527.27 102.19,524.84 104.26,522.41 106.34,520 108.41,517.59 110.48,515.21 112.56,512.86 114.63,510.53 116.71,508.24 118.78,505.99 120.86,503.78 122.93,501.62 125,499.52 127.08,497.47 129.15,495.49 131.23,493.58 133.3,491.74 135.37,489.98 137.45,488.31 139.52,486.72 141.6,485.22 143.67,483.81 145.75,482.5 147.82,481.3 149.89,480.19 151.97,479.2 154.04,478.31 156.12,477.54 158.19,476.88 160.26,476.34 162.34,475.92 164.41,475.61 166.49,475.42 168.56,475.36 170.64,475.41 172.71,475.58 174.78,475.88 176.86,476.29 178.93,476.82 181.01,477.46 183.08,478.23 185.16,479.1 187.23,480.08 189.3,481.17 191.38,482.37 193.45,483.66 195.53,485.06 197.6,486.55 199.67,488.13 201.75,489.8 203.82,491.55 205.9,493.38 207.97,495.28 210.05,497.25 212.12,499.29 214.19,501.39 216.27,503.54 218.34,505.74 220.42,507.99 222.49,510.28 224.57,512.6 226.64,514.95 228.71,517.33 230.79,519.73 232.86,522.15 234.94,524.58 237.01,527.01 239.08,529.44 241.16,531.88 243.23,534.3 245.31,536.72 247.38,539.12 249.46,541.5 251.53,543.87 253.6,546.2 255.68,548.51 257.75,550.79 259.83,553.03 261.9,555.23 263.98,557.4 266.05,559.52 268.12,561.6 270.2,563.64 272.27,565.63 274.35,567.57 276.42,569.46 278.49,571.3 280.57,573.08 282.64,574.82 284.72,576.5 286.79,578.13 288.87,579.7 290.94,581.22 293.01,582.69 295.09,584.11 297.16,585.47 299.24,586.78 301.31,588.03 303.39,589.24 305.46,590.4 307.53,591.5 309.61,592.56 311.68,593.57 313.76,594.53 315.83,595.45" fill="none" stroke="#006600" stroke-width="2.6" stroke-linejoin="round" stroke-linecap="round"/><polyline points="69,554.96 71.07,553.11 73.15,551.24 75.22,549.36 77.3,547.48 79.37,545.59 81.45,543.7 83.52,541.82 85.59,539.94 87.67,538.07 89.74,536.22 91.82,534.38 93.89,532.57 95.96,530.78 98.04,529.02 100.11,527.29 102.19,525.6 104.26,523.94 106.34,522.34 108.41,520.77 110.48,519.26 112.56,517.8 114.63,516.4 116.71,515.07 118.78,513.79 120.86,512.58 122.93,511.45 125,510.38 127.08,509.4 129.15,508.49 131.23,507.66 133.3,506.91 135.37,506.25 137.45,505.68 139.52,505.19 141.6,504.79 143.67,504.48 145.75,504.26 147.82,504.14 149.89,504.1 151.97,504.16 154.04,504.31 156.12,504.55 158.19,504.88 160.26,505.31 162.34,505.82 164.41,506.41 166.49,507.1 168.56,507.86 170.64,508.71 172.71,509.64 174.78,510.65 176.86,511.73 178.93,512.89 181.01,514.11 183.08,515.4 185.16,516.76 187.23,518.17 189.3,519.65 191.38,521.17 193.45,522.75 195.53,524.37 197.6,526.03 199.67,527.73 201.75,529.47 203.82,531.24 205.9,533.04 207.97,534.86 210.05,536.7 212.12,538.55 214.19,540.42 216.27,542.3 218.34,544.19 220.42,546.08 222.49,547.96 224.57,549.85 226.64,551.72 228.71,553.59 230.79,555.44 232.86,557.28 234.94,559.1 237.01,560.89 239.08,562.67 241.16,564.42 243.23,566.14 245.31,567.83 247.38,569.49 249.46,571.12 251.53,572.72 253.6,574.27 255.68,575.8 257.75,577.28 259.83,578.73 261.9,580.13 263.98,581.5 266.05,582.83 268.12,584.12 270.2,585.36 272.27,586.57 274.35,587.73 276.42,588.85 278.49,589.93 280.57,590.98 282.64,591.98 284.72,592.94 286.79,593.86 288.87,594.75 290.94,595.59 293.01,596.4 295.09,597.18 297.16,597.91 299.24,598.62 301.31,599.29 303.39,599.92 305.46,600.53 307.53,601.1 309.61,601.65 311.68,602.17 313.76,602.65 315.83,603.12" fill="none" stroke="#003300" stroke-width="2.6" stroke-linejoin="round" stroke-linecap="round"/><polyline points="69,556.29 71.07,554.87 73.15,553.46 75.22,552.06 77.3,550.68 79.37,549.32 81.45,547.99 83.52,546.68 85.59,545.4 87.67,544.15 89.74,542.93 91.82,541.75 93.89,540.61 95.96,539.52 98.04,538.47 100.11,537.47 102.19,536.51 104.26,535.62 106.34,534.77 108.41,533.98 110.48,533.26 112.56,532.59 114.63,531.99 116.71,531.45 118.78,530.97 120.86,530.57 122.93,530.23 125,529.96 127.08,529.76 129.15,529.63 131.23,529.57 133.3,529.58 135.37,529.66 137.45,529.81 139.52,530.03 141.6,530.32 143.67,530.68 145.75,531.11 147.82,531.61 149.89,532.17 151.97,532.79 154.04,533.47 156.12,534.22 158.19,535.02 160.26,535.89 162.34,536.8 164.41,537.77 166.49,538.78 168.56,539.85 170.64,540.96 172.71,542.11 174.78,543.3 176.86,544.52 178.93,545.79 181.01,547.08 183.08,548.39 185.16,549.74 187.23,551.1 189.3,552.49 191.38,553.89 193.45,555.31 195.53,556.73 197.6,558.17 199.67,559.6 201.75,561.05 203.82,562.49 205.9,563.93 207.97,565.36 210.05,566.79 212.12,568.2 214.19,569.61 216.27,571 218.34,572.38 220.42,573.74 222.49,575.07 224.57,576.39 226.64,577.69 228.71,578.96 230.79,580.21 232.86,581.43 234.94,582.63 237.01,583.79 239.08,584.93 241.16,586.04 243.23,587.12 245.31,588.16 247.38,589.18 249.46,590.17 251.53,591.12 253.6,592.04 255.68,592.93 257.75,593.79 259.83,594.62 261.9,595.42 263.98,596.18 266.05,596.92 268.12,597.62 270.2,598.3 272.27,598.95 274.35,599.57 276.42,600.16 278.49,600.72 280.57,601.26 282.64,601.77 284.72,602.26 286.79,602.72 288.87,603.16 290.94,603.57 293.01,603.96 295.09,604.34 297.16,604.69 299.24,605.02 301.31,605.33 303.39,605.63 305.46,605.9 307.53,606.16 309.61,606.41 311.68,606.64 313.76,606.85 315.83,607.05" fill="none" stroke="#000000" stroke-width="2.6" stroke-linejoin="round" stroke-linecap="round"/><rect x="58.95" y="396" width="266.55" height="221.75" fill="none" stroke="#000" stroke-width="1.2"/><line x1="51.15" y1="609.54" x2="58.95" y2="609.54" stroke="#000" stroke-width="1.2"/><g transform="translate(22.56,614.84) scale(1,0.95)"><text x="0" y="0" font-size="15.6">0.0</text></g><line x1="51.15" y1="558.21" x2="58.95" y2="558.21" stroke="#000" stroke-width="1.2"/><g transform="translate(22.56,563.51) scale(1,0.95)"><text x="0" y="0" font-size="15.6">0.5</text></g><line x1="51.15" y1="506.88" x2="58.95" y2="506.88" stroke="#000" stroke-width="1.2"/><g transform="translate(22.56,512.17) scale(1,0.95)"><text x="0" y="0" font-size="15.6"> .0</text><path d="M555 0H735V1440H600C570 1300 460 1170 207 1150V1000H555Z" transform="translate(0.00,0) scale(0.007617,-0.007617)"/></g><line x1="51.15" y1="455.54" x2="58.95" y2="455.54" stroke="#000" stroke-width="1.2"/><g transform="translate(22.56,460.84) scale(1,0.95)"><text x="0" y="0" font-size="15.6"> .5</text><path d="M555 0H735V1440H600C570 1300 460 1170 207 1150V1000H555Z" transform="translate(0.00,0) scale(0.007617,-0.007617)"/></g><line x1="51.15" y1="404.21" x2="58.95" y2="404.21" stroke="#000" stroke-width="1.2"/><g transform="translate(22.56,409.51) scale(1,0.95)"><text x="0" y="0" font-size="15.6">2.0</text></g><line x1="69" y1="617.75" x2="69" y2="625.55" stroke="#000" stroke-width="1.2"/><g transform="translate(64.66,644.65) scale(1,0.95)"><text x="0" y="0" font-size="15.6">0</text></g><line x1="116.15" y1="617.75" x2="116.15" y2="625.55" stroke="#000" stroke-width="1.2"/><g transform="translate(103.14,644.65) scale(1,0.95)"><text x="0" y="0" font-size="15.6"> 00</text><path d="M555 0H735V1440H600C570 1300 460 1170 207 1150V1000H555Z" transform="translate(0.00,0) scale(0.007617,-0.007617)"/></g><line x1="163.3" y1="617.75" x2="163.3" y2="625.55" stroke="#000" stroke-width="1.2"/><g transform="translate(150.29,644.65) scale(1,0.95)"><text x="0" y="0" font-size="15.6">200</text></g><line x1="210.45" y1="617.75" x2="210.45" y2="625.55" stroke="#000" stroke-width="1.2"/><g transform="translate(197.44,644.65) scale(1,0.95)"><text x="0" y="0" font-size="15.6">300</text></g><line x1="257.6" y1="617.75" x2="257.6" y2="625.55" stroke="#000" stroke-width="1.2"/><g transform="translate(244.59,644.65) scale(1,0.95)"><text x="0" y="0" font-size="15.6">400</text></g><line x1="304.75" y1="617.75" x2="304.75" y2="625.55" stroke="#000" stroke-width="1.2"/><g transform="translate(291.74,644.65) scale(1,0.95)"><text x="0" y="0" font-size="15.6">500</text></g><text transform="translate(192.22,674.25) scale(1,1.0)" font-size="15.6" text-anchor="middle">Distance to safe areas [m]</text><text transform="translate(192.22,372.10) scale(1,1.02)" font-size="18.7" font-weight="bold" text-anchor="middle">c)</text><text transform="translate(11.6,506.88) rotate(-90) scale(1,1.0)" font-size="15.6" text-anchor="middle">Relative probability of selection</text></g>
<g><polyline points="427.6,506.71 429.68,507.67 431.76,508.66 433.84,509.68 435.92,510.72 438,511.78 440.08,512.87 442.16,513.98 444.24,515.1 446.32,516.25 448.4,517.42 450.48,518.6 452.56,519.8 454.64,521.01 456.72,522.23 458.8,523.47 460.88,524.72 462.96,525.97 465.04,527.24 467.12,528.51 469.2,529.79 471.27,531.08 473.35,532.36 475.43,533.65 477.51,534.95 479.59,536.24 481.67,537.54 483.75,538.83 485.83,540.12 487.91,541.41 489.99,542.69 492.07,543.97 494.15,545.25 496.23,546.52 498.31,547.78 500.39,549.04 502.47,550.28 504.55,551.52 506.63,552.75 508.71,553.97 510.79,555.17 512.87,556.37 514.95,557.55 517.03,558.73 519.11,559.88 521.19,561.03 523.27,562.16 525.35,563.28 527.43,564.38 529.51,565.47 531.59,566.55 533.67,567.61 535.75,568.65 537.83,569.68 539.91,570.69 541.99,571.69 544.07,572.67 546.15,573.63 548.23,574.57 550.31,575.5 552.39,576.42 554.47,577.31 556.54,578.19 558.62,579.06 560.7,579.9 562.78,580.73 564.86,581.54 566.94,582.34 569.02,583.12 571.1,583.88 573.18,584.63 575.26,585.36 577.34,586.07 579.42,586.77 581.5,587.45 583.58,588.11 585.66,588.76 587.74,589.4 589.82,590.01 591.9,590.62 593.98,591.21 596.06,591.78 598.14,592.34 600.22,592.88 602.3,593.41 604.38,593.93 606.46,594.43 608.54,594.92 610.62,595.4 612.7,595.86 614.78,596.31 616.86,596.75 618.94,597.18 621.02,597.59 623.1,597.99 625.18,598.38 627.26,598.76 629.34,599.13 631.42,599.49 633.5,599.83 635.58,600.17 637.66,600.49 639.74,600.81 641.81,601.11 643.89,601.41 645.97,601.7 648.05,601.97 650.13,602.24 652.21,602.5 654.29,602.76 656.37,603 658.45,603.24 660.53,603.47 662.61,603.69 664.69,603.9 666.77,604.11 668.85,604.31 670.93,604.5 673.01,604.69 675.09,604.87" fill="none" stroke="#00FF00" stroke-width="2.6" stroke-linejoin="round" stroke-linecap="round"/><polyline points="427.6,473.86 429.68,475.32 431.76,476.83 433.84,478.37 435.92,479.96 438,481.59 440.08,483.25 442.16,484.95 444.24,486.68 446.32,488.43 448.4,490.22 450.48,492.02 452.56,493.85 454.64,495.7 456.72,497.56 458.8,499.44 460.88,501.33 462.96,503.23 465.04,505.14 467.12,507.05 469.2,508.97 471.27,510.89 473.35,512.81 475.43,514.73 477.51,516.64 479.59,518.55 481.67,520.45 483.75,522.34 485.83,524.22 487.91,526.09 489.99,527.95 492.07,529.79 494.15,531.62 496.23,533.43 498.31,535.22 500.39,537 502.47,538.75 504.55,540.48 506.63,542.19 508.71,543.88 510.79,545.55 512.87,547.19 514.95,548.81 517.03,550.4 519.11,551.96 521.19,553.5 523.27,555.02 525.35,556.5 527.43,557.96 529.51,559.4 531.59,560.8 533.67,562.18 535.75,563.53 537.83,564.85 539.91,566.15 541.99,567.41 544.07,568.65 546.15,569.86 548.23,571.05 550.31,572.2 552.39,573.33 554.47,574.44 556.54,575.51 558.62,576.56 560.7,577.59 562.78,578.58 564.86,579.55 566.94,580.5 569.02,581.42 571.1,582.32 573.18,583.19 575.26,584.04 577.34,584.87 579.42,585.67 581.5,586.45 583.58,587.21 585.66,587.94 587.74,588.66 589.82,589.35 591.9,590.02 593.98,590.67 596.06,591.31 598.14,591.92 600.22,592.51 602.3,593.09 604.38,593.65 606.46,594.19 608.54,594.71 610.62,595.22 612.7,595.71 614.78,596.19 616.86,596.65 618.94,597.09 621.02,597.52 623.1,597.94 625.18,598.34 627.26,598.73 629.34,599.11 631.42,599.47 633.5,599.82 635.58,600.16 637.66,600.49 639.74,600.8 641.81,601.11 643.89,601.4 645.97,601.69 648.05,601.96 650.13,602.23 652.21,602.49 654.29,602.73 656.37,602.97 658.45,603.2 660.53,603.42 662.61,603.64 664.69,603.84 666.77,604.04 668.85,604.23 670.93,604.42 673.01,604.59 675.09,604.77" fill="none" stroke="#00CC00" stroke-width="2.6" stroke-linejoin="round" stroke-linecap="round"/><polyline points="427.6,451.64 429.68,453.76 431.76,455.92 433.84,458.12 435.92,460.36 438,462.64 440.08,464.95 442.16,467.29 444.24,469.65 446.32,472.04 448.4,474.45 450.48,476.87 452.56,479.3 454.64,481.75 456.72,484.2 458.8,486.65 460.88,489.11 462.96,491.56 465.04,494.01 467.12,496.45 469.2,498.88 471.27,501.3 473.35,503.71 475.43,506.1 477.51,508.47 479.59,510.82 481.67,513.16 483.75,515.47 485.83,517.75 487.91,520.01 489.99,522.24 492.07,524.44 494.15,526.61 496.23,528.76 498.31,530.87 500.39,532.94 502.47,534.99 504.55,537 506.63,538.97 508.71,540.91 510.79,542.82 512.87,544.68 514.95,546.52 517.03,548.31 519.11,550.07 521.19,551.79 523.27,553.47 525.35,555.12 527.43,556.73 529.51,558.3 531.59,559.84 533.67,561.34 535.75,562.81 537.83,564.23 539.91,565.63 541.99,566.98 544.07,568.3 546.15,569.59 548.23,570.85 550.31,572.06 552.39,573.25 554.47,574.41 556.54,575.53 558.62,576.62 560.7,577.68 562.78,578.7 564.86,579.7 566.94,580.67 569.02,581.61 571.1,582.53 573.18,583.41 575.26,584.27 577.34,585.1 579.42,585.91 581.5,586.69 583.58,587.44 585.66,588.17 587.74,588.88 589.82,589.57 591.9,590.23 593.98,590.88 596.06,591.5 598.14,592.1 600.22,592.68 602.3,593.24 604.38,593.78 606.46,594.31 608.54,594.82 610.62,595.31 612.7,595.78 614.78,596.24 616.86,596.68 618.94,597.11 621.02,597.52 623.1,597.91 625.18,598.3 627.26,598.67 629.34,599.03 631.42,599.37 633.5,599.7 635.58,600.02 637.66,600.33 639.74,600.63 641.81,600.92 643.89,601.2 645.97,601.46 648.05,601.72 650.13,601.97 652.21,602.21 654.29,602.44 656.37,602.66 658.45,602.88 660.53,603.09 662.61,603.29 664.69,603.48 666.77,603.66 668.85,603.84 670.93,604.02 673.01,604.18 675.09,604.34" fill="none" stroke="#009900" stroke-width="2.6" stroke-linejoin="round" stroke-linecap="round"/><polyline points="427.6,446.09 429.68,448.51 431.76,450.96 433.84,453.44 435.92,455.95 438,458.48 440.08,461.03 442.16,463.6 444.24,466.18 446.32,468.77 448.4,471.37 450.48,473.98 452.56,476.59 454.64,479.19 456.72,481.8 458.8,484.4 460.88,486.99 462.96,489.57 465.04,492.14 467.12,494.69 469.2,497.23 471.27,499.75 473.35,502.24 475.43,504.72 477.51,507.17 479.59,509.6 481.67,512 483.75,514.37 485.83,516.71 487.91,519.02 489.99,521.3 492.07,523.55 494.15,525.77 496.23,527.95 498.31,530.09 500.39,532.2 502.47,534.28 504.55,536.31 506.63,538.31 508.71,540.28 510.79,542.2 512.87,544.09 514.95,545.94 517.03,547.75 519.11,549.52 521.19,551.26 523.27,552.95 525.35,554.61 527.43,556.23 529.51,557.82 531.59,559.36 533.67,560.87 535.75,562.35 537.83,563.78 539.91,565.18 541.99,566.55 544.07,567.88 546.15,569.17 548.23,570.43 550.31,571.66 552.39,572.85 554.47,574.01 556.54,575.14 558.62,576.24 560.7,577.31 562.78,578.34 564.86,579.35 566.94,580.32 569.02,581.27 571.1,582.19 573.18,583.08 575.26,583.95 577.34,584.79 579.42,585.6 581.5,586.39 583.58,587.15 585.66,587.89 587.74,588.61 589.82,589.3 591.9,589.98 593.98,590.63 596.06,591.26 598.14,591.86 600.22,592.45 602.3,593.02 604.38,593.58 606.46,594.11 608.54,594.62 610.62,595.12 612.7,595.6 614.78,596.07 616.86,596.52 618.94,596.95 621.02,597.37 623.1,597.78 625.18,598.17 627.26,598.55 629.34,598.91 631.42,599.26 633.5,599.6 635.58,599.93 637.66,600.25 639.74,600.55 641.81,600.85 643.89,601.13 645.97,601.41 648.05,601.67 650.13,601.93 652.21,602.17 654.29,602.41 656.37,602.64 658.45,602.86 660.53,603.08 662.61,603.28 664.69,603.48 666.77,603.67 668.85,603.86 670.93,604.03 673.01,604.21 675.09,604.37" fill="none" stroke="#006600" stroke-width="2.6" stroke-linejoin="round" stroke-linecap="round"/><polyline points="427.6,460.66 429.68,463.38 431.76,466.11 433.84,468.84 435.92,471.58 438,474.32 440.08,477.06 442.16,479.8 444.24,482.53 446.32,485.24 448.4,487.95 450.48,490.65 452.56,493.32 454.64,495.98 456.72,498.62 458.8,501.24 460.88,503.83 462.96,506.4 465.04,508.94 467.12,511.45 469.2,513.93 471.27,516.38 473.35,518.8 475.43,521.18 477.51,523.53 479.59,525.84 481.67,528.12 483.75,530.36 485.83,532.56 487.91,534.73 489.99,536.85 492.07,538.94 494.15,540.98 496.23,542.99 498.31,544.96 500.39,546.88 502.47,548.77 504.55,550.61 506.63,552.41 508.71,554.18 510.79,555.9 512.87,557.58 514.95,559.22 517.03,560.83 519.11,562.39 521.19,563.91 523.27,565.4 525.35,566.84 527.43,568.25 529.51,569.62 531.59,570.96 533.67,572.25 535.75,573.51 537.83,574.74 539.91,575.93 541.99,577.09 544.07,578.21 546.15,579.3 548.23,580.36 550.31,581.38 552.39,582.38 554.47,583.34 556.54,584.28 558.62,585.18 560.7,586.06 562.78,586.91 564.86,587.73 566.94,588.52 569.02,589.29 571.1,590.03 573.18,590.75 575.26,591.45 577.34,592.12 579.42,592.76 581.5,593.39 583.58,593.99 585.66,594.58 587.74,595.14 589.82,595.69 591.9,596.21 593.98,596.72 596.06,597.2 598.14,597.67 600.22,598.13 602.3,598.56 604.38,598.98 606.46,599.39 608.54,599.78 610.62,600.16 612.7,600.52 614.78,600.87 616.86,601.2 618.94,601.53 621.02,601.84 623.1,602.14 625.18,602.42 627.26,602.7 629.34,602.97 631.42,603.22 633.5,603.47 635.58,603.71 637.66,603.93 639.74,604.15 641.81,604.36 643.89,604.56 645.97,604.76 648.05,604.95 650.13,605.12 652.21,605.3 654.29,605.46 656.37,605.62 658.45,605.77 660.53,605.92 662.61,606.06 664.69,606.19 666.77,606.32 668.85,606.45 670.93,606.57 673.01,606.68 675.09,606.79" fill="none" stroke="#003300" stroke-width="2.6" stroke-linejoin="round" stroke-linecap="round"/><polyline points="427.6,489.23 429.68,491.78 431.76,494.33 433.84,496.86 435.92,499.38 438,501.89 440.08,504.37 442.16,506.84 444.24,509.29 446.32,511.72 448.4,514.12 450.48,516.5 452.56,518.84 454.64,521.16 456.72,523.45 458.8,525.71 460.88,527.93 462.96,530.12 465.04,532.28 467.12,534.4 469.2,536.49 471.27,538.54 473.35,540.55 475.43,542.53 477.51,544.46 479.59,546.36 481.67,548.22 483.75,550.04 485.83,551.83 487.91,553.57 489.99,555.28 492.07,556.94 494.15,558.57 496.23,560.16 498.31,561.71 500.39,563.22 502.47,564.7 504.55,566.14 506.63,567.54 508.71,568.9 510.79,570.23 512.87,571.52 514.95,572.78 517.03,574 519.11,575.19 521.19,576.34 523.27,577.46 525.35,578.55 527.43,579.61 529.51,580.63 531.59,581.62 533.67,582.59 535.75,583.52 537.83,584.43 539.91,585.3 541.99,586.15 544.07,586.98 546.15,587.77 548.23,588.54 550.31,589.29 552.39,590.01 554.47,590.7 556.54,591.38 558.62,592.03 560.7,592.66 562.78,593.26 564.86,593.85 566.94,594.42 569.02,594.97 571.1,595.49 573.18,596 575.26,596.5 577.34,596.97 579.42,597.43 581.5,597.87 583.58,598.29 585.66,598.7 587.74,599.1 589.82,599.48 591.9,599.85 593.98,600.2 596.06,600.54 598.14,600.87 600.22,601.19 602.3,601.49 604.38,601.78 606.46,602.07 608.54,602.34 610.62,602.6 612.7,602.85 614.78,603.09 616.86,603.33 618.94,603.55 621.02,603.77 623.1,603.97 625.18,604.17 627.26,604.37 629.34,604.55 631.42,604.73 633.5,604.9 635.58,605.06 637.66,605.22 639.74,605.37 641.81,605.52 643.89,605.66 645.97,605.8 648.05,605.93 650.13,606.05 652.21,606.17 654.29,606.29 656.37,606.4 658.45,606.5 660.53,606.61 662.61,606.71 664.69,606.8 666.77,606.89 668.85,606.98 670.93,607.06 673.01,607.14 675.09,607.22" fill="none" stroke="#000000" stroke-width="2.6" stroke-linejoin="round" stroke-linecap="round"/><rect x="417.9" y="396" width="266.55" height="221.75" fill="none" stroke="#000" stroke-width="1.2"/><line x1="410.1" y1="609.54" x2="417.9" y2="609.54" stroke="#000" stroke-width="1.2"/><g transform="translate(381.51,614.84) scale(1,0.95)"><text x="0" y="0" font-size="15.6">0.0</text></g><line x1="410.1" y1="558.21" x2="417.9" y2="558.21" stroke="#000" stroke-width="1.2"/><g transform="translate(381.51,563.51) scale(1,0.95)"><text x="0" y="0" font-size="15.6">0.5</text></g><line x1="410.1" y1="506.88" x2="417.9" y2="506.88" stroke="#000" stroke-width="1.2"/><g transform="translate(381.51,512.17) scale(1,0.95)"><text x="0" y="0" font-size="15.6"> .0</text><path d="M555 0H735V1440H600C570 1300 460 1170 207 1150V1000H555Z" transform="translate(0.00,0) scale(0.007617,-0.007617)"/></g><line x1="410.1" y1="455.54" x2="417.9" y2="455.54" stroke="#000" stroke-width="1.2"/><g transform="translate(381.51,460.84) scale(1,0.95)"><text x="0" y="0" font-size="15.6"> .5</text><path d="M555 0H735V1440H600C570 1300 460 1170 207 1150V1000H555Z" transform="translate(0.00,0) scale(0.007617,-0.007617)"/></g><line x1="410.1" y1="404.21" x2="417.9" y2="404.21" stroke="#000" stroke-width="1.2"/><g transform="translate(381.51,409.51) scale(1,0.95)"><text x="0" y="0" font-size="15.6">2.0</text></g><line x1="427.6" y1="617.75" x2="427.6" y2="625.55" stroke="#000" stroke-width="1.2"/><g transform="translate(423.26,644.65) scale(1,0.95)"><text x="0" y="0" font-size="15.6">0</text></g><line x1="479" y1="617.75" x2="479" y2="625.55" stroke="#000" stroke-width="1.2"/><g transform="translate(465.99,644.65) scale(1,0.95)"><text x="0" y="0" font-size="15.6">200</text></g><line x1="530.4" y1="617.75" x2="530.4" y2="625.55" stroke="#000" stroke-width="1.2"/><g transform="translate(517.39,644.65) scale(1,0.95)"><text x="0" y="0" font-size="15.6">400</text></g><line x1="581.8" y1="617.75" x2="581.8" y2="625.55" stroke="#000" stroke-width="1.2"/><g transform="translate(568.79,644.65) scale(1,0.95)"><text x="0" y="0" font-size="15.6">600</text></g><line x1="633.2" y1="617.75" x2="633.2" y2="625.55" stroke="#000" stroke-width="1.2"/><g transform="translate(620.19,644.65) scale(1,0.95)"><text x="0" y="0" font-size="15.6">800</text></g><text transform="translate(551.17,674.25) scale(1,1.0)" font-size="15.6" text-anchor="middle">Distance to hiking trails [m]</text><text transform="translate(551.17,372.10) scale(1,1.02)" font-size="18.7" font-weight="bold" text-anchor="middle">d)</text><rect x="556.1" y="424.7" width="38.4" height="13.97" fill="#000000"/><rect x="556.1" y="438.37" width="38.4" height="13.97" fill="#003300"/><rect x="556.1" y="452.03" width="38.4" height="13.97" fill="#006600"/><rect x="556.1" y="465.7" width="38.4" height="13.97" fill="#009900"/><rect x="556.1" y="479.37" width="38.4" height="13.97" fill="#00CC00"/><rect x="556.1" y="493.03" width="38.4" height="13.97" fill="#00FF00"/><text transform="translate(555.30,415.5) scale(1,1.0)" font-size="12.4">Julian Day</text><g transform="translate(602.60,427.90) scale(1,0.95)"><text x="0" y="0" font-size="12.4"> 5 Oct</text><path d="M555 0H735V1440H600C570 1300 460 1170 207 1150V1000H555Z" transform="translate(0.00,0) scale(0.006055,-0.006055)"/></g><g transform="translate(602.60,509.90) scale(1,0.95)"><text x="0" y="0" font-size="12.4"> 5 May</text><path d="M555 0H735V1440H600C570 1300 460 1170 207 1150V1000H555Z" transform="translate(0.00,0) scale(0.006055,-0.006055)"/></g></g>
<g><polyline points="69.1,907.59 71.17,907.13 73.25,906.67 75.32,906.22 77.39,905.76 79.47,905.31 81.54,904.85 83.62,904.4 85.69,903.95 87.76,903.5 89.84,903.05 91.91,902.61 93.98,902.16 96.06,901.72 98.13,901.28 100.2,900.84 102.28,900.4 104.35,899.97 106.42,899.53 108.5,899.1 110.57,898.68 112.65,898.25 114.72,897.82 116.79,897.4 118.87,896.98 120.94,896.57 123.01,896.15 125.09,895.74 127.16,895.34 129.23,894.93 131.31,894.53 133.38,894.13 135.46,893.73 137.53,893.34 139.6,892.95 141.68,892.56 143.75,892.18 145.82,891.8 147.9,891.43 149.97,891.06 152.04,890.69 154.12,890.32 156.19,889.96 158.27,889.61 160.34,889.25 162.41,888.91 164.49,888.56 166.56,888.22 168.63,887.89 170.71,887.55 172.78,887.23 174.85,886.9 176.93,886.59 179,886.27 181.07,885.96 183.15,885.66 185.22,885.36 187.3,885.07 189.37,884.78 191.44,884.49 193.52,884.21 195.59,883.94 197.66,883.67 199.74,883.4 201.81,883.14 203.88,882.89 205.96,882.64 208.03,882.4 210.11,882.16 212.18,881.93 214.25,881.7 216.33,881.48 218.4,881.27 220.47,881.06 222.55,880.86 224.62,880.66 226.69,880.47 228.77,880.28 230.84,880.1 232.91,879.92 234.99,879.76 237.06,879.59 239.14,879.44 241.21,879.29 243.28,879.14 245.36,879 247.43,878.87 249.5,878.75 251.58,878.63 253.65,878.51 255.72,878.41 257.8,878.31 259.87,878.21 261.95,878.12 264.02,878.04 266.09,877.97 268.17,877.9 270.24,877.84 272.31,877.78 274.39,877.73 276.46,877.69 278.53,877.65 280.61,877.62 282.68,877.6 284.75,877.58 286.83,877.57 288.9,877.56 290.98,877.57 293.05,877.57 295.12,877.59 297.2,877.61 299.27,877.64 301.34,877.67 303.42,877.71 305.49,877.76 307.56,877.81 309.64,877.87 311.71,877.94 313.79,878.01 315.86,878.09" fill="none" stroke="#00FF00" stroke-width="2.6" stroke-linejoin="round" stroke-linecap="round"/><polyline points="69.1,886.42 71.17,885.87 73.25,885.32 75.32,884.77 77.39,884.23 79.47,883.69 81.54,883.15 83.62,882.61 85.69,882.08 87.76,881.55 89.84,881.02 91.91,880.5 93.98,879.98 96.06,879.46 98.13,878.95 100.2,878.44 102.28,877.94 104.35,877.44 106.42,876.94 108.5,876.45 110.57,875.96 112.65,875.48 114.72,875 116.79,874.53 118.87,874.06 120.94,873.6 123.01,873.14 125.09,872.68 127.16,872.23 129.23,871.79 131.31,871.35 133.38,870.92 135.46,870.49 137.53,870.07 139.6,869.65 141.68,869.24 143.75,868.84 145.82,868.44 147.9,868.04 149.97,867.66 152.04,867.28 154.12,866.9 156.19,866.53 158.27,866.17 160.34,865.82 162.41,865.47 164.49,865.13 166.56,864.79 168.63,864.46 170.71,864.14 172.78,863.83 174.85,863.52 176.93,863.22 179,862.93 181.07,862.64 183.15,862.36 185.22,862.09 187.3,861.82 189.37,861.57 191.44,861.32 193.52,861.08 195.59,860.84 197.66,860.62 199.74,860.4 201.81,860.19 203.88,859.98 205.96,859.79 208.03,859.6 210.11,859.42 212.18,859.25 214.25,859.08 216.33,858.93 218.4,858.78 220.47,858.64 222.55,858.51 224.62,858.39 226.69,858.27 228.77,858.17 230.84,858.07 232.91,857.98 234.99,857.9 237.06,857.82 239.14,857.76 241.21,857.7 243.28,857.66 245.36,857.62 247.43,857.58 249.5,857.56 251.58,857.55 253.65,857.54 255.72,857.54 257.8,857.55 259.87,857.57 261.95,857.6 264.02,857.64 266.09,857.68 268.17,857.73 270.24,857.79 272.31,857.86 274.39,857.94 276.46,858.03 278.53,858.12 280.61,858.22 282.68,858.33 284.75,858.45 286.83,858.58 288.9,858.72 290.98,858.86 293.05,859.01 295.12,859.17 297.2,859.34 299.27,859.52 301.34,859.7 303.42,859.89 305.49,860.09 307.56,860.3 309.64,860.51 311.71,860.74 313.79,860.97 315.86,861.21" fill="none" stroke="#00CC00" stroke-width="2.6" stroke-linejoin="round" stroke-linecap="round"/><polyline points="69.1,871.13 71.17,870.6 73.25,870.07 75.32,869.55 77.39,869.03 79.47,868.52 81.54,868.01 83.62,867.5 85.69,867 87.76,866.51 89.84,866.02 91.91,865.53 93.98,865.05 96.06,864.57 98.13,864.1 100.2,863.64 102.28,863.18 104.35,862.73 106.42,862.28 108.5,861.83 110.57,861.4 112.65,860.97 114.72,860.54 116.79,860.12 118.87,859.71 120.94,859.3 123.01,858.9 125.09,858.5 127.16,858.12 129.23,857.73 131.31,857.36 133.38,856.99 135.46,856.63 137.53,856.27 139.6,855.92 141.68,855.58 143.75,855.25 145.82,854.92 147.9,854.6 149.97,854.29 152.04,853.98 154.12,853.68 156.19,853.39 158.27,853.11 160.34,852.83 162.41,852.56 164.49,852.3 166.56,852.05 168.63,851.8 170.71,851.56 172.78,851.33 174.85,851.11 176.93,850.9 179,850.69 181.07,850.49 183.15,850.3 185.22,850.12 187.3,849.94 189.37,849.78 191.44,849.62 193.52,849.47 195.59,849.33 197.66,849.2 199.74,849.07 201.81,848.95 203.88,848.85 205.96,848.75 208.03,848.65 210.11,848.57 212.18,848.5 214.25,848.43 216.33,848.37 218.4,848.32 220.47,848.28 222.55,848.25 224.62,848.23 226.69,848.21 228.77,848.21 230.84,848.21 232.91,848.22 234.99,848.24 237.06,848.27 239.14,848.3 241.21,848.35 243.28,848.4 245.36,848.46 247.43,848.53 249.5,848.61 251.58,848.7 253.65,848.79 255.72,848.9 257.8,849.01 259.87,849.13 261.95,849.26 264.02,849.39 266.09,849.54 268.17,849.69 270.24,849.85 272.31,850.02 274.39,850.2 276.46,850.39 278.53,850.58 280.61,850.79 282.68,851 284.75,851.21 286.83,851.44 288.9,851.67 290.98,851.92 293.05,852.17 295.12,852.42 297.2,852.69 299.27,852.96 301.34,853.24 303.42,853.53 305.49,853.82 307.56,854.12 309.64,854.43 311.71,854.75 313.79,855.07 315.86,855.4" fill="none" stroke="#009900" stroke-width="2.6" stroke-linejoin="round" stroke-linecap="round"/><polyline points="69.1,865.47 71.17,865.01 73.25,864.56 75.32,864.11 77.39,863.67 79.47,863.24 81.54,862.81 83.62,862.38 85.69,861.97 87.76,861.55 89.84,861.15 91.91,860.75 93.98,860.36 96.06,859.97 98.13,859.59 100.2,859.22 102.28,858.85 104.35,858.49 106.42,858.14 108.5,857.79 110.57,857.45 112.65,857.12 114.72,856.79 116.79,856.47 118.87,856.16 120.94,855.86 123.01,855.56 125.09,855.27 127.16,854.99 129.23,854.71 131.31,854.45 133.38,854.19 135.46,853.94 137.53,853.69 139.6,853.46 141.68,853.23 143.75,853.01 145.82,852.79 147.9,852.59 149.97,852.39 152.04,852.2 154.12,852.02 156.19,851.85 158.27,851.69 160.34,851.53 162.41,851.38 164.49,851.24 166.56,851.11 168.63,850.99 170.71,850.87 172.78,850.77 174.85,850.67 176.93,850.58 179,850.5 181.07,850.43 183.15,850.36 185.22,850.31 187.3,850.26 189.37,850.22 191.44,850.19 193.52,850.17 195.59,850.16 197.66,850.15 199.74,850.15 201.81,850.17 203.88,850.19 205.96,850.22 208.03,850.26 210.11,850.3 212.18,850.36 214.25,850.42 216.33,850.49 218.4,850.57 220.47,850.66 222.55,850.76 224.62,850.86 226.69,850.98 228.77,851.1 230.84,851.23 232.91,851.37 234.99,851.52 237.06,851.67 239.14,851.84 241.21,852.01 243.28,852.19 245.36,852.38 247.43,852.57 249.5,852.78 251.58,852.99 253.65,853.21 255.72,853.44 257.8,853.67 259.87,853.91 261.95,854.16 264.02,854.42 266.09,854.69 268.17,854.96 270.24,855.25 272.31,855.53 274.39,855.83 276.46,856.13 278.53,856.44 280.61,856.76 282.68,857.09 284.75,857.42 286.83,857.76 288.9,858.1 290.98,858.46 293.05,858.82 295.12,859.18 297.2,859.56 299.27,859.94 301.34,860.32 303.42,860.71 305.49,861.11 307.56,861.52 309.64,861.93 311.71,862.34 313.79,862.77 315.86,863.2" fill="none" stroke="#006600" stroke-width="2.6" stroke-linejoin="round" stroke-linecap="round"/><polyline points="69.1,872.36 71.17,872.03 73.25,871.71 75.32,871.4 77.39,871.1 79.47,870.8 81.54,870.5 83.62,870.21 85.69,869.93 87.76,869.66 89.84,869.39 91.91,869.13 93.98,868.87 96.06,868.62 98.13,868.38 100.2,868.14 102.28,867.92 104.35,867.69 106.42,867.48 108.5,867.27 110.57,867.07 112.65,866.87 114.72,866.69 116.79,866.51 118.87,866.33 120.94,866.17 123.01,866.01 125.09,865.86 127.16,865.71 129.23,865.57 131.31,865.44 133.38,865.32 135.46,865.2 137.53,865.1 139.6,865 141.68,864.9 143.75,864.82 145.82,864.74 147.9,864.67 149.97,864.6 152.04,864.55 154.12,864.5 156.19,864.46 158.27,864.43 160.34,864.4 162.41,864.38 164.49,864.37 166.56,864.37 168.63,864.37 170.71,864.38 172.78,864.4 174.85,864.43 176.93,864.46 179,864.51 181.07,864.56 183.15,864.61 185.22,864.68 187.3,864.75 189.37,864.83 191.44,864.92 193.52,865.01 195.59,865.11 197.66,865.22 199.74,865.34 201.81,865.46 203.88,865.59 205.96,865.73 208.03,865.88 210.11,866.03 212.18,866.19 214.25,866.36 216.33,866.53 218.4,866.71 220.47,866.9 222.55,867.1 224.62,867.3 226.69,867.51 228.77,867.73 230.84,867.95 232.91,868.18 234.99,868.42 237.06,868.66 239.14,868.91 241.21,869.17 243.28,869.43 245.36,869.7 247.43,869.98 249.5,870.26 251.58,870.55 253.65,870.84 255.72,871.14 257.8,871.45 259.87,871.76 261.95,872.08 264.02,872.41 266.09,872.74 268.17,873.07 270.24,873.42 272.31,873.76 274.39,874.12 276.46,874.48 278.53,874.84 280.61,875.21 282.68,875.59 284.75,875.97 286.83,876.35 288.9,876.74 290.98,877.14 293.05,877.54 295.12,877.94 297.2,878.35 299.27,878.77 301.34,879.18 303.42,879.61 305.49,880.04 307.56,880.47 309.64,880.9 311.71,881.34 313.79,881.79 315.86,882.24" fill="none" stroke="#003300" stroke-width="2.6" stroke-linejoin="round" stroke-linecap="round"/><polyline points="69.1,888.6 71.17,888.43 73.25,888.25 75.32,888.09 77.39,887.93 79.47,887.77 81.54,887.62 83.62,887.47 85.69,887.33 87.76,887.2 89.84,887.07 91.91,886.95 93.98,886.83 96.06,886.72 98.13,886.61 100.2,886.51 102.28,886.41 104.35,886.32 106.42,886.23 108.5,886.16 110.57,886.08 112.65,886.01 114.72,885.95 116.79,885.89 118.87,885.84 120.94,885.8 123.01,885.76 125.09,885.73 127.16,885.7 129.23,885.68 131.31,885.66 133.38,885.65 135.46,885.64 137.53,885.64 139.6,885.65 141.68,885.66 143.75,885.68 145.82,885.7 147.9,885.73 149.97,885.77 152.04,885.81 154.12,885.86 156.19,885.91 158.27,885.97 160.34,886.03 162.41,886.1 164.49,886.18 166.56,886.26 168.63,886.34 170.71,886.44 172.78,886.53 174.85,886.64 176.93,886.74 179,886.86 181.07,886.98 183.15,887.1 185.22,887.23 187.3,887.37 189.37,887.51 191.44,887.66 193.52,887.81 195.59,887.97 197.66,888.13 199.74,888.3 201.81,888.47 203.88,888.65 205.96,888.83 208.03,889.02 210.11,889.22 212.18,889.41 214.25,889.62 216.33,889.83 218.4,890.04 220.47,890.26 222.55,890.48 224.62,890.71 226.69,890.94 228.77,891.18 230.84,891.42 232.91,891.67 234.99,891.92 237.06,892.17 239.14,892.43 241.21,892.7 243.28,892.97 245.36,893.24 247.43,893.52 249.5,893.8 251.58,894.08 253.65,894.37 255.72,894.67 257.8,894.96 259.87,895.26 261.95,895.57 264.02,895.88 266.09,896.19 268.17,896.51 270.24,896.83 272.31,897.15 274.39,897.47 276.46,897.8 278.53,898.14 280.61,898.47 282.68,898.81 284.75,899.16 286.83,899.5 288.9,899.85 290.98,900.2 293.05,900.56 295.12,900.92 297.2,901.28 299.27,901.64 301.34,902.01 303.42,902.37 305.49,902.75 307.56,903.12 309.64,903.49 311.71,903.87 313.79,904.25 315.86,904.63" fill="none" stroke="#000000" stroke-width="2.6" stroke-linejoin="round" stroke-linecap="round"/><rect x="58.95" y="754.3" width="266.55" height="221.75" fill="none" stroke="#000" stroke-width="1.2"/><line x1="51.15" y1="967.84" x2="58.95" y2="967.84" stroke="#000" stroke-width="1.2"/><g transform="translate(22.56,973.14) scale(1,0.95)"><text x="0" y="0" font-size="15.6">0.0</text></g><line x1="51.15" y1="916.51" x2="58.95" y2="916.51" stroke="#000" stroke-width="1.2"/><g transform="translate(22.56,921.81) scale(1,0.95)"><text x="0" y="0" font-size="15.6">0.5</text></g><line x1="51.15" y1="865.17" x2="58.95" y2="865.17" stroke="#000" stroke-width="1.2"/><g transform="translate(22.56,870.47) scale(1,0.95)"><text x="0" y="0" font-size="15.6"> .0</text><path d="M555 0H735V1440H600C570 1300 460 1170 207 1150V1000H555Z" transform="translate(0.00,0) scale(0.007617,-0.007617)"/></g><line x1="51.15" y1="813.84" x2="58.95" y2="813.84" stroke="#000" stroke-width="1.2"/><g transform="translate(22.56,819.14) scale(1,0.95)"><text x="0" y="0" font-size="15.6"> .5</text><path d="M555 0H735V1440H600C570 1300 460 1170 207 1150V1000H555Z" transform="translate(0.00,0) scale(0.007617,-0.007617)"/></g><line x1="51.15" y1="762.51" x2="58.95" y2="762.51" stroke="#000" stroke-width="1.2"/><g transform="translate(22.56,767.81) scale(1,0.95)"><text x="0" y="0" font-size="15.6">2.0</text></g><line x1="69.1" y1="976.05" x2="69.1" y2="983.85" stroke="#000" stroke-width="1.2"/><g transform="translate(53.70,1002.95) scale(1,0.95)"><text x="0" y="0" font-size="15.6">− .0</text><path d="M555 0H735V1440H600C570 1300 460 1170 207 1150V1000H555Z" transform="translate(9.11,0) scale(0.007617,-0.007617)"/></g><line x1="131.35" y1="976.05" x2="131.35" y2="983.85" stroke="#000" stroke-width="1.2"/><g transform="translate(115.95,1002.95) scale(1,0.95)"><text x="0" y="0" font-size="15.6">−0.5</text></g><line x1="193.6" y1="976.05" x2="193.6" y2="983.85" stroke="#000" stroke-width="1.2"/><g transform="translate(182.76,1002.95) scale(1,0.95)"><text x="0" y="0" font-size="15.6">0.0</text></g><line x1="255.85" y1="976.05" x2="255.85" y2="983.85" stroke="#000" stroke-width="1.2"/><g transform="translate(245.01,1002.95) scale(1,0.95)"><text x="0" y="0" font-size="15.6">0.5</text></g><line x1="318.1" y1="976.05" x2="318.1" y2="983.85" stroke="#000" stroke-width="1.2"/><g transform="translate(307.26,1002.95) scale(1,0.95)"><text x="0" y="0" font-size="15.6"> .0</text><path d="M555 0H735V1440H600C570 1300 460 1170 207 1150V1000H555Z" transform="translate(0.00,0) scale(0.007617,-0.007617)"/></g><text transform="translate(192.22,1032.55) scale(1,1.0)" font-size="15.6" text-anchor="middle">Aspect [S−N]</text><text transform="translate(192.22,730.40) scale(1,1.02)" font-size="18.7" font-weight="bold" text-anchor="middle">e)</text><text transform="translate(11.6,865.17) rotate(-90) scale(1,1.0)" font-size="15.6" text-anchor="middle">Relative probability of selection</text></g>
<g><polyline points="427.6,897.62 429.68,895.57 431.77,893.54 433.85,891.53 435.93,889.55 438.02,887.6 440.1,885.68 442.19,883.81 444.27,881.99 446.35,880.22 448.44,878.51 450.52,876.85 452.6,875.27 454.69,873.75 456.77,872.31 458.85,870.96 460.94,869.68 463.02,868.49 465.11,867.39 467.19,866.39 469.27,865.48 471.36,864.67 473.44,863.97 475.52,863.37 477.61,862.88 479.69,862.49 481.77,862.21 483.86,862.05 485.94,861.99 488.03,862.05 490.11,862.21 492.19,862.49 494.28,862.87 496.36,863.37 498.44,863.97 500.53,864.67 502.61,865.48 504.7,866.39 506.78,867.39 508.86,868.49 510.95,869.68 513.03,870.95 515.11,872.31 517.2,873.75 519.28,875.27 521.36,876.85 523.45,878.5 525.53,880.22 527.62,881.99 529.7,883.81 531.78,885.68 533.87,887.59 535.95,889.54 538.03,891.53 540.12,893.54 542.2,895.57 544.28,897.62 546.37,899.68 548.45,901.76 550.54,903.83 552.62,905.91 554.7,907.98 556.79,910.04 558.87,912.09 560.95,914.13 563.04,916.14 565.12,918.13 567.2,920.1 569.29,922.03 571.37,923.93 573.46,925.8 575.54,927.63 577.62,929.42 579.71,931.17 581.79,932.87 583.87,934.53 585.96,936.15 588.04,937.72 590.12,939.24 592.21,940.71 594.29,942.14 596.38,943.51 598.46,944.84 600.54,946.11 602.63,947.34 604.71,948.51 606.79,949.64 608.88,950.72 610.96,951.76 613.05,952.74 615.13,953.69 617.21,954.58 619.3,955.43 621.38,956.24 623.46,957.01 625.55,957.74 627.63,958.43 629.71,959.08 631.8,959.7 633.88,960.27 635.97,960.82 638.05,961.33 640.13,961.81 642.22,962.27 644.3,962.69 646.38,963.09 648.47,963.46 650.55,963.8 652.63,964.12 654.72,964.42 656.8,964.7 658.89,964.96 660.97,965.2 663.05,965.43 665.14,965.63 667.22,965.82 669.3,966 671.39,966.16 673.47,966.31 675.55,966.45" fill="none" stroke="#00FF00" stroke-width="2.6" stroke-linejoin="round" stroke-linecap="round"/><polyline points="427.6,901.36 429.68,898.96 431.77,896.55 433.85,894.14 435.93,891.73 438.02,889.33 440.1,886.94 442.19,884.56 444.27,882.21 446.35,879.89 448.44,877.6 450.52,875.35 452.6,873.15 454.69,871 456.77,868.9 458.85,866.88 460.94,864.92 463.02,863.03 465.11,861.23 467.19,859.52 469.27,857.89 471.36,856.36 473.44,854.93 475.52,853.61 477.61,852.4 479.69,851.3 481.77,850.31 483.86,849.45 485.94,848.71 488.03,848.09 490.11,847.6 492.19,847.24 494.28,847.01 496.36,846.91 498.44,846.94 500.53,847.09 502.61,847.38 504.7,847.8 506.78,848.35 508.86,849.02 510.95,849.82 513.03,850.73 515.11,851.77 517.2,852.92 519.28,854.18 521.36,855.55 523.45,857.02 525.53,858.6 527.62,860.26 529.7,862.02 531.78,863.86 533.87,865.77 535.95,867.76 538.03,869.82 540.12,871.94 542.2,874.11 544.28,876.34 546.37,878.6 548.45,880.91 550.54,883.24 552.62,885.61 554.7,887.99 556.79,890.39 558.87,892.8 560.95,895.21 563.04,897.62 565.12,900.02 567.2,902.41 569.29,904.79 571.37,907.14 573.46,909.47 575.54,911.77 577.62,914.04 579.71,916.27 581.79,918.46 583.87,920.61 585.96,922.72 588.04,924.78 590.12,926.79 592.21,928.75 594.29,930.65 596.38,932.5 598.46,934.29 600.54,936.03 602.63,937.71 604.71,939.33 606.79,940.9 608.88,942.4 610.96,943.85 613.05,945.24 615.13,946.57 617.21,947.85 619.3,949.07 621.38,950.23 623.46,951.34 625.55,952.39 627.63,953.4 629.71,954.35 631.8,955.26 633.88,956.11 635.97,956.92 638.05,957.69 640.13,958.41 642.22,959.09 644.3,959.73 646.38,960.33 648.47,960.89 650.55,961.42 652.63,961.91 654.72,962.38 656.8,962.81 658.89,963.21 660.97,963.59 663.05,963.93 665.14,964.26 667.22,964.56 669.3,964.84 671.39,965.1 673.47,965.33 675.55,965.55" fill="none" stroke="#00CC00" stroke-width="2.6" stroke-linejoin="round" stroke-linecap="round"/><polyline points="427.6,912.93 429.68,910.6 431.77,908.24 433.85,905.85 435.93,903.44 438.02,901 440.1,898.54 442.19,896.07 444.27,893.6 446.35,891.12 448.44,888.64 450.52,886.17 452.6,883.72 454.69,881.28 456.77,878.88 458.85,876.5 460.94,874.16 463.02,871.86 465.11,869.62 467.19,867.43 469.27,865.3 471.36,863.24 473.44,861.25 475.52,859.34 477.61,857.52 479.69,855.79 481.77,854.15 483.86,852.61 485.94,851.18 488.03,849.86 490.11,848.66 492.19,847.57 494.28,846.6 496.36,845.75 498.44,845.03 500.53,844.44 502.61,843.99 504.7,843.66 506.78,843.47 508.86,843.41 510.95,843.49 513.03,843.7 515.11,844.04 517.2,844.52 519.28,845.12 521.36,845.86 523.45,846.72 525.53,847.71 527.62,848.81 529.7,850.03 531.78,851.37 533.87,852.82 535.95,854.37 538.03,856.01 540.12,857.76 542.2,859.59 544.28,861.51 546.37,863.51 548.45,865.58 550.54,867.72 552.62,869.91 554.7,872.17 556.79,874.47 558.87,876.82 560.95,879.2 563.04,881.61 565.12,884.05 567.2,886.5 569.29,888.97 571.37,891.45 573.46,893.93 575.54,896.41 577.62,898.87 579.71,901.33 581.79,903.76 583.87,906.18 585.96,908.56 588.04,910.92 590.12,913.24 592.21,915.52 594.29,917.76 596.38,919.96 598.46,922.11 600.54,924.21 602.63,926.26 604.71,928.26 606.79,930.2 608.88,932.08 610.96,933.91 613.05,935.67 615.13,937.38 617.21,939.03 619.3,940.62 621.38,942.15 623.46,943.62 625.55,945.03 627.63,946.38 629.71,947.67 631.8,948.91 633.88,950.09 635.97,951.21 638.05,952.28 640.13,953.3 642.22,954.26 644.3,955.17 646.38,956.04 648.47,956.86 650.55,957.63 652.63,958.36 654.72,959.04 656.8,959.69 658.89,960.29 660.97,960.86 663.05,961.39 665.14,961.89 667.22,962.36 669.3,962.79 671.39,963.2 673.47,963.58 675.55,963.93" fill="none" stroke="#009900" stroke-width="2.6" stroke-linejoin="round" stroke-linecap="round"/><polyline points="427.6,925.83 429.68,923.82 431.77,921.77 433.85,919.67 435.93,917.53 438.02,915.36 440.1,913.14 442.19,910.9 444.27,908.62 446.35,906.32 448.44,904 450.52,901.66 452.6,899.31 454.69,896.95 456.77,894.59 458.85,892.24 460.94,889.88 463.02,887.55 465.11,885.23 467.19,882.93 469.27,880.66 471.36,878.43 473.44,876.24 475.52,874.09 477.61,872 479.69,869.97 481.77,867.99 483.86,866.09 485.94,864.26 488.03,862.52 490.11,860.85 492.19,859.28 494.28,857.8 496.36,856.42 498.44,855.14 500.53,853.97 502.61,852.92 504.7,851.97 506.78,851.14 508.86,850.43 510.95,849.85 513.03,849.38 515.11,849.05 517.2,848.84 519.28,848.75 521.36,848.79 523.45,848.96 525.53,849.26 527.62,849.68 529.7,850.23 531.78,850.9 533.87,851.68 535.95,852.59 538.03,853.61 540.12,854.75 542.2,855.99 544.28,857.34 546.37,858.78 548.45,860.33 550.54,861.96 552.62,863.68 554.7,865.48 556.79,867.36 558.87,869.31 560.95,871.32 563.04,873.4 565.12,875.53 567.2,877.7 569.29,879.92 571.37,882.18 573.46,884.47 575.54,886.78 577.62,889.11 579.71,891.46 581.79,893.82 583.87,896.18 585.96,898.54 588.04,900.89 590.12,903.23 592.21,905.56 594.29,907.87 596.38,910.15 598.46,912.41 600.54,914.63 602.63,916.82 604.71,918.97 606.79,921.08 608.88,923.15 610.96,925.17 613.05,927.15 615.13,929.07 617.21,930.94 619.3,932.76 621.38,934.53 623.46,936.24 625.55,937.89 627.63,939.49 629.71,941.03 631.8,942.52 633.88,943.95 635.97,945.32 638.05,946.63 640.13,947.89 642.22,949.1 644.3,950.25 646.38,951.35 648.47,952.39 650.55,953.39 652.63,954.33 654.72,955.23 656.8,956.08 658.89,956.89 660.97,957.65 663.05,958.36 665.14,959.04 667.22,959.68 669.3,960.28 671.39,960.84 673.47,961.37 675.55,961.86" fill="none" stroke="#006600" stroke-width="2.6" stroke-linejoin="round" stroke-linecap="round"/><polyline points="427.6,940.32 429.68,938.82 431.77,937.27 433.85,935.68 435.93,934.04 438.02,932.36 440.1,930.63 442.19,928.87 444.27,927.06 446.35,925.21 448.44,923.33 450.52,921.42 452.6,919.48 454.69,917.51 456.77,915.51 458.85,913.5 460.94,911.47 463.02,909.43 465.11,907.38 467.19,905.33 469.27,903.27 471.36,901.22 473.44,899.19 475.52,897.16 477.61,895.16 479.69,893.18 481.77,891.23 483.86,889.31 485.94,887.43 488.03,885.6 490.11,883.81 492.19,882.08 494.28,880.41 496.36,878.81 498.44,877.27 500.53,875.81 502.61,874.42 504.7,873.12 506.78,871.9 508.86,870.78 510.95,869.74 513.03,868.81 515.11,867.97 517.2,867.23 519.28,866.6 521.36,866.08 523.45,865.66 525.53,865.36 527.62,865.16 529.7,865.08 531.78,865.1 533.87,865.24 535.95,865.49 538.03,865.85 540.12,866.32 542.2,866.9 544.28,867.58 546.37,868.37 548.45,869.25 550.54,870.24 552.62,871.32 554.7,872.49 556.79,873.75 558.87,875.09 560.95,876.52 563.04,878.02 565.12,879.59 567.2,881.22 569.29,882.92 571.37,884.68 573.46,886.49 575.54,888.34 577.62,890.24 579.71,892.18 581.79,894.14 583.87,896.14 585.96,898.15 588.04,900.18 590.12,902.23 592.21,904.28 594.29,906.33 596.38,908.38 598.46,910.43 600.54,912.47 602.63,914.49 604.71,916.49 606.79,918.47 608.88,920.43 610.96,922.36 613.05,924.26 615.13,926.12 617.21,927.95 619.3,929.74 621.38,931.48 623.46,933.19 625.55,934.85 627.63,936.47 629.71,938.04 631.8,939.56 633.88,941.03 635.97,942.45 638.05,943.83 640.13,945.15 642.22,946.43 644.3,947.65 646.38,948.83 648.47,949.95 650.55,951.03 652.63,952.06 654.72,953.05 656.8,953.98 658.89,954.87 660.97,955.72 663.05,956.53 665.14,957.29 667.22,958.01 669.3,958.69 671.39,959.34 673.47,959.94 675.55,960.52" fill="none" stroke="#003300" stroke-width="2.6" stroke-linejoin="round" stroke-linecap="round"/><polyline points="427.6,952.03 429.68,951.09 431.77,950.1 433.85,949.08 435.93,948.01 438.02,946.91 440.1,945.77 442.19,944.6 444.27,943.38 446.35,942.13 448.44,940.85 450.52,939.52 452.6,938.17 454.69,936.78 456.77,935.37 458.85,933.92 460.94,932.45 463.02,930.95 465.11,929.43 467.19,927.89 469.27,926.32 471.36,924.75 473.44,923.16 475.52,921.56 477.61,919.95 479.69,918.34 481.77,916.73 483.86,915.12 485.94,913.52 488.03,911.93 490.11,910.35 492.19,908.79 494.28,907.25 496.36,905.74 498.44,904.25 500.53,902.8 502.61,901.38 504.7,900.01 506.78,898.67 508.86,897.39 510.95,896.16 513.03,894.98 515.11,893.86 517.2,892.8 519.28,891.81 521.36,890.88 523.45,890.03 525.53,889.25 527.62,888.54 529.7,887.91 531.78,887.36 533.87,886.89 535.95,886.51 538.03,886.2 540.12,885.99 542.2,885.86 544.28,885.81 546.37,885.85 548.45,885.98 550.54,886.19 552.62,886.48 554.7,886.86 556.79,887.33 558.87,887.87 560.95,888.5 563.04,889.2 565.12,889.97 567.2,890.83 569.29,891.75 571.37,892.73 573.46,893.79 575.54,894.9 577.62,896.08 579.71,897.31 581.79,898.59 583.87,899.92 585.96,901.29 588.04,902.7 590.12,904.15 592.21,905.64 594.29,907.15 596.38,908.69 598.46,910.25 600.54,911.82 602.63,913.41 604.71,915.02 606.79,916.62 608.88,918.23 610.96,919.84 613.05,921.45 615.13,923.05 617.21,924.64 619.3,926.22 621.38,927.78 623.46,929.33 625.55,930.85 627.63,932.35 629.71,933.82 631.8,935.27 633.88,936.69 635.97,938.08 638.05,939.44 640.13,940.76 642.22,942.05 644.3,943.3 646.38,944.52 648.47,945.7 650.55,946.84 652.63,947.94 654.72,949.01 656.8,950.03 658.89,951.02 660.97,951.97 663.05,952.89 665.14,953.76 667.22,954.6 669.3,955.4 671.39,956.16 673.47,956.89 675.55,957.59" fill="none" stroke="#000000" stroke-width="2.6" stroke-linejoin="round" stroke-linecap="round"/><rect x="417.9" y="754.3" width="266.55" height="221.75" fill="none" stroke="#000" stroke-width="1.2"/><line x1="410.1" y1="967.84" x2="417.9" y2="967.84" stroke="#000" stroke-width="1.2"/><g transform="translate(381.51,973.14) scale(1,0.95)"><text x="0" y="0" font-size="15.6">0.0</text></g><line x1="410.1" y1="916.51" x2="417.9" y2="916.51" stroke="#000" stroke-width="1.2"/><g transform="translate(381.51,921.81) scale(1,0.95)"><text x="0" y="0" font-size="15.6">0.5</text></g><line x1="410.1" y1="865.17" x2="417.9" y2="865.17" stroke="#000" stroke-width="1.2"/><g transform="translate(381.51,870.47) scale(1,0.95)"><text x="0" y="0" font-size="15.6"> .0</text><path d="M555 0H735V1440H600C570 1300 460 1170 207 1150V1000H555Z" transform="translate(0.00,0) scale(0.007617,-0.007617)"/></g><line x1="410.1" y1="813.84" x2="417.9" y2="813.84" stroke="#000" stroke-width="1.2"/><g transform="translate(381.51,819.14) scale(1,0.95)"><text x="0" y="0" font-size="15.6"> .5</text><path d="M555 0H735V1440H600C570 1300 460 1170 207 1150V1000H555Z" transform="translate(0.00,0) scale(0.007617,-0.007617)"/></g><line x1="410.1" y1="762.51" x2="417.9" y2="762.51" stroke="#000" stroke-width="1.2"/><g transform="translate(381.51,767.81) scale(1,0.95)"><text x="0" y="0" font-size="15.6">2.0</text></g><line x1="427.6" y1="976.05" x2="427.6" y2="983.85" stroke="#000" stroke-width="1.2"/><g transform="translate(423.26,1002.95) scale(1,0.95)"><text x="0" y="0" font-size="15.6">0</text></g><line x1="492.68" y1="976.05" x2="492.68" y2="983.85" stroke="#000" stroke-width="1.2"/><g transform="translate(484.00,1002.95) scale(1,0.95)"><text x="0" y="0" font-size="15.6">20</text></g><line x1="557.76" y1="976.05" x2="557.76" y2="983.85" stroke="#000" stroke-width="1.2"/><g transform="translate(549.08,1002.95) scale(1,0.95)"><text x="0" y="0" font-size="15.6">40</text></g><line x1="622.84" y1="976.05" x2="622.84" y2="983.85" stroke="#000" stroke-width="1.2"/><g transform="translate(614.16,1002.95) scale(1,0.95)"><text x="0" y="0" font-size="15.6">60</text></g><text transform="translate(551.17,1032.55) scale(1,1.0)" font-size="15.6" text-anchor="middle">Slope [°]</text><text transform="translate(551.17,730.40) scale(1,1.02)" font-size="18.7" font-weight="bold" text-anchor="middle">f)</text></g>
</svg></body></html>
